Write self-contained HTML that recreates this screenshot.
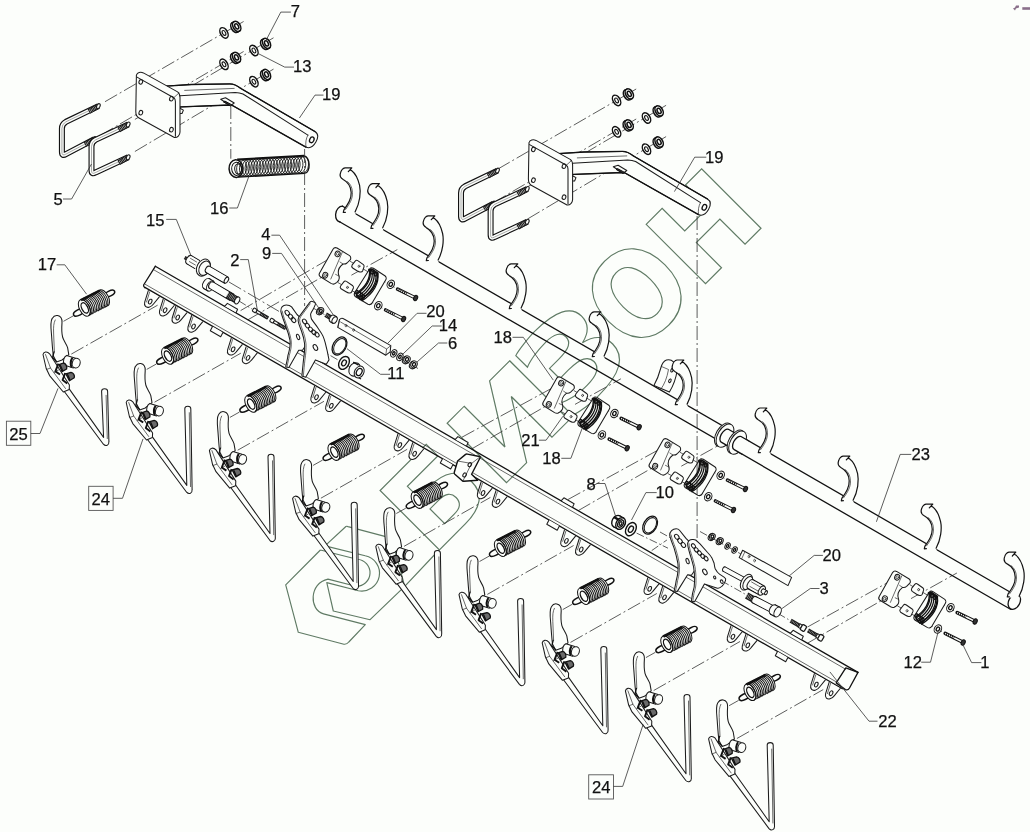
<!DOCTYPE html>
<html><head><meta charset="utf-8"><title>22</title>
<style>
html,body{margin:0;padding:0;background:#fcfefb;}
body{width:1030px;height:832px;overflow:hidden;}
svg{display:block;will-change:transform}
.l{fill:none;stroke:#1c1c1c;stroke-width:1.05;stroke-linejoin:round;stroke-linecap:round}
.f{fill:#fcfefb;stroke:#1c1c1c;stroke-width:1.05;stroke-linejoin:round;stroke-linecap:round}
.l2{fill:none;stroke:#141414;stroke-width:1.2;stroke-linejoin:round;stroke-linecap:round}
.f2{fill:#fcfefb;stroke:#111;stroke-width:1.4;stroke-linejoin:round}
.t{fill:none;stroke:#2a2a2a;stroke-width:0.7;stroke-linecap:round}
.k{fill:none;stroke:#111;stroke-width:1.3;stroke-linejoin:round;stroke-linecap:round}
.c{fill:none;stroke:#333;stroke-width:0.8;stroke-dasharray:14 3 2 3}
.c2{fill:none;stroke:#333;stroke-width:0.8}
.c3{fill:none;stroke:#333;stroke-width:0.8;stroke-dasharray:8 2.5 1.5 2.5}
.ld{fill:none;stroke:#333;stroke-width:0.8}
.w{fill:none;stroke:#5f7a64;stroke-width:1.15;stroke-linejoin:round}
.sl{fill:#fcfefb;stroke:#111;stroke-width:1.5}
.sb{fill:#fcfefb;stroke:none}
.sc{fill:none;stroke:#111;stroke-width:1.0}
.sc2{fill:none;stroke:#111;stroke-width:1.3}
.d2{fill:#333;stroke:#111;stroke-width:1}
.d{fill:#6a6a6a;stroke:#111;stroke-width:1.3;stroke-linejoin:round}
text{font-family:"Liberation Sans",sans-serif;font-size:16.6px;fill:#111;stroke:#111;stroke-width:0.25}
.wm{font-family:"DejaVu Sans","Liberation Sans",sans-serif;font-weight:bold;font-size:115.2px;fill:none;stroke:#5f7a64;stroke-width:1.15;stroke-linejoin:miter;vector-effect:non-scaling-stroke}
</style></head><body>
<svg width="1030" height="832" viewBox="0 0 1030 832">
<rect x="0" y="0" width="1030" height="832" fill="#fcfefb"/>
<path class="w" d="M325,545.9 L345.9,526.5 Q346.5,526 348,526.6 L389.5,537.6 Q392,538.2 392.6,541 L404.7,586.3 L439,550" />
<path class="w" d="M404.7,586.3 L370.1,619.7 L333.3,611 L326.8,582.6 L358.3,590.7 A17,17 0 0 0 365.2,555.8 L325,545.9" />
<path class="w" d="M320.4,550 L285.7,584.8 L298.3,632.3 L343,644 Q346.5,645 348.8,642 L365.3,624.6 L323.5,613.9 C309,610 309,583 328,579.1 L355.9,586.3 A13.5,13.5 0 0 0 357.1,559.3 L320.4,550" />
<g transform="rotate(-45)">
<text class="wm" transform="translate(-88.9,699.6) scale(1.027,1.000)" x="0" y="0">Б</text>
<text class="wm" transform="translate(4.4,699.6) scale(1.175,1.000)" x="0" y="0">И</text>
<text class="wm" transform="translate(102.0,701.2) scale(1.185,1.040)" x="0" y="0">З</text>
<text class="wm" transform="translate(197.7,701.2) scale(0.926,1.040)" x="0" y="0">О</text>
<text class="wm" transform="translate(287.3,699.6) scale(1.042,1.000)" x="0" y="0">Н</text>
</g>
<path class="c2" d="M63.5,321.3 L73.0,316.0"/>
<path class="c" d="M71.3,354.1 L157.6,305.2"/>
<path class="c2" d="M146.7,369.4 L156.2,364.1"/>
<path class="c" d="M154.5,402.2 L240.8,353.2"/>
<path class="c2" d="M229.9,417.4 L239.4,412.1"/>
<path class="c" d="M237.7,450.2 L324.0,401.3"/>
<path class="c2" d="M313.1,465.4 L322.6,460.1"/>
<path class="c" d="M320.9,498.2 L407.2,449.3"/>
<path class="c2" d="M396.3,513.5 L405.8,508.2"/>
<path class="c" d="M404.1,546.3 L490.4,497.4"/>
<path class="c2" d="M479.5,561.5 L489.0,556.2"/>
<path class="c" d="M487.3,594.4 L573.6,545.5"/>
<path class="c2" d="M562.7,609.6 L572.2,604.3"/>
<path class="c" d="M570.5,642.4 L656.8,593.5"/>
<path class="c2" d="M645.9,657.6 L655.4,652.3"/>
<path class="c" d="M653.7,690.5 L740.0,641.5"/>
<path class="c2" d="M729.1,705.7 L738.6,700.4"/>
<path class="c" d="M736.9,738.5 L823.2,689.6"/>
<path class="c" d="M497.6,169.2 L636.2,89.0"/>
<path class="c" d="M527.5,186.9 L666.1,105.3"/>
<path class="c" d="M493.6,202.6 L636.2,119.0"/>
<path class="c" d="M527.5,219.0 L666.1,136.6"/>
<path class="c" d="M105.0,101.7 L243.6,21.5"/>
<path class="c" d="M134.9,119.4 L273.5,37.8"/>
<path class="c" d="M101.0,135.1 L243.6,51.5"/>
<path class="c" d="M134.9,151.5 L273.5,69.1"/>
<path class="c" d="M240.6,310.6 L337.6,253.9"/>
<path class="c" d="M247.9,319.8 L325.2,275.2"/>
<path class="c3" d="M337.6,253.9 L397.6,289.2"/>
<path class="c3" d="M325.2,275.2 L385.6,310.0"/>
<path class="c" d="M351.4,275.2 L397.3,249.6"/>
<path class="c" d="M462.0,437.2 L561.2,383.1"/>
<path class="c" d="M471.5,449.0 L548.8,404.4"/>
<path class="c3" d="M561.2,383.1 L621.2,418.4"/>
<path class="c3" d="M548.8,404.4 L609.2,439.2"/>
<path class="c" d="M575.0,404.4 L620.9,378.8"/>
<path class="c" d="M568.0,499.5 L667.5,444.9"/>
<path class="c" d="M578.1,510.7 L655.1,466.2"/>
<path class="c3" d="M667.5,444.9 L727.5,480.2"/>
<path class="c3" d="M655.1,466.2 L715.5,501.0"/>
<path class="c" d="M681.3,466.2 L727.2,440.6"/>
<path class="c" d="M807.5,627.0 L897.2,577.3"/>
<path class="c" d="M807.5,643.2 L884.8,598.6"/>
<path class="c3" d="M897.2,577.3 L957.2,612.6"/>
<path class="c3" d="M884.8,598.6 L945.2,633.4"/>
<path class="c" d="M911.0,598.6 L956.9,573.0"/>
<path class="c" d="M229.0,282.0 L280.0,312.0"/>
<path class="c3" d="M239.0,301.0 L252.0,309.0"/>
<path class="c3" d="M285.0,328.5 L297.0,335.5"/>
<path class="c3" d="M314.0,308.5 L418.0,368.5"/>
<path class="c3" d="M318.0,348.4 L362.0,373.8"/>
<path class="c3" d="M700.0,531.5 L790.0,581.0"/>
<path class="c3" d="M636.6,533.1 L668.0,548.2"/>
<path class="c3" d="M660.0,532.0 L670.4,537.8"/>
<path class="c3" d="M721.7,580.9 L748.4,596.0"/>
<path class="c3" d="M778.0,613.5 L790.0,620.4"/>
<path class="c3" d="M651.7,550.6 L666.9,540.0"/>
<path class="k" d="M155.3,266.3 L858.0,672.4" />
<path class="t" d="M153.4,269.6 L845.8,669.3" />
<path class="t" d="M145.2,284.3 L836.5,682.0" />
<path class="k" d="M144.9,287.4 L842.4,688.8" />
<path class="k" d="M155.3,266.3 L143.6,285.0 Q143.4,286.6 144.9,287.7" />
<path class="k" d="M845.8,667.8 L858,672.4 L849.5,688 Q848,690.6 845.4,689.6 L836.2,682.9 Z" />
<path class="f2" d="M457.6,461 L465.6,454.4 Q466.3,453.9 467.4,454.1 L479.4,456.5 Q480.6,456.8 480.1,457.8 L471.6,474.2 L477.7,480.3 L463.6,481.2 Q462.6,481.2 462,480.5 L454.6,473.9 Q454,473.2 454.3,472.2 Z" />
<path class="t" d="M457.6,461.0 L471.5,463.5 L480.3,456.7" />
<path class="t" d="M471.5,463.5 L462.8,481.2" />
<ellipse class="l" cx="469.8" cy="464.6" rx="1.6" ry="2.2" transform="rotate(30.0 469.8 464.6)"/>
<ellipse class="l" cx="464.6" cy="475.0" rx="1.6" ry="2.2" transform="rotate(30.0 464.6 475.0)"/>
<g transform="translate(148.3,290.6)">
<path class="f" d="M0,0 L-3.6,11.5 C-4.6,15.5 -2,17.3 0.8,16.6 C3,16 4.3,14.6 5.2,13.4 L11,6.3" />
<path class="t" d="M1.4,1.2 L-1.8,11.4" />
<ellipse class="l" cx="1.9" cy="11.0" rx="1.6" ry="2.5" transform="rotate(25.0 1.9 11.0)"/>
</g>
<g transform="translate(163.2,299.2)">
<path class="f" d="M0,0 L-3.6,11.5 C-4.6,15.5 -2,17.3 0.8,16.6 C3,16 4.3,14.6 5.2,13.4 L11,6.3" />
<path class="t" d="M1.4,1.2 L-1.8,11.4" />
<ellipse class="l" cx="1.9" cy="11.0" rx="1.6" ry="2.5" transform="rotate(25.0 1.9 11.0)"/>
</g>
<g transform="translate(175.8,306.5)">
<path class="f" d="M0,0 L-3.6,11.5 C-4.6,15.5 -2,17.3 0.8,16.6 C3,16 4.3,14.6 5.2,13.4 L11,6.3" />
<path class="t" d="M1.4,1.2 L-1.8,11.4" />
<ellipse class="l" cx="1.9" cy="11.0" rx="1.6" ry="2.5" transform="rotate(25.0 1.9 11.0)"/>
</g>
<g transform="translate(191.6,315.5)">
<path class="f" d="M0,0 L-3.6,11.5 C-4.6,15.5 -2,17.3 0.8,16.6 C3,16 4.3,14.6 5.2,13.4 L11,6.3" />
<path class="t" d="M1.4,1.2 L-1.8,11.4" />
<ellipse class="l" cx="1.9" cy="11.0" rx="1.6" ry="2.5" transform="rotate(25.0 1.9 11.0)"/>
</g>
<g transform="translate(231.2,338.3)">
<path class="f" d="M0,0 L-3.6,11.5 C-4.6,15.5 -2,17.3 0.8,16.6 C3,16 4.3,14.6 5.2,13.4 L11,6.3" />
<path class="t" d="M1.4,1.2 L-1.8,11.4" />
<ellipse class="l" cx="1.9" cy="11.0" rx="1.6" ry="2.5" transform="rotate(25.0 1.9 11.0)"/>
</g>
<g transform="translate(246.1,346.9)">
<path class="f" d="M0,0 L-3.6,11.5 C-4.6,15.5 -2,17.3 0.8,16.6 C3,16 4.3,14.6 5.2,13.4 L11,6.3" />
<path class="t" d="M1.4,1.2 L-1.8,11.4" />
<ellipse class="l" cx="1.9" cy="11.0" rx="1.6" ry="2.5" transform="rotate(25.0 1.9 11.0)"/>
</g>
<g transform="translate(314.6,386.2)">
<path class="f" d="M0,0 L-3.6,11.5 C-4.6,15.5 -2,17.3 0.8,16.6 C3,16 4.3,14.6 5.2,13.4 L11,6.3" />
<path class="t" d="M1.4,1.2 L-1.8,11.4" />
<ellipse class="l" cx="1.9" cy="11.0" rx="1.6" ry="2.5" transform="rotate(25.0 1.9 11.0)"/>
</g>
<g transform="translate(329.4,394.8)">
<path class="f" d="M0,0 L-3.6,11.5 C-4.6,15.5 -2,17.3 0.8,16.6 C3,16 4.3,14.6 5.2,13.4 L11,6.3" />
<path class="t" d="M1.4,1.2 L-1.8,11.4" />
<ellipse class="l" cx="1.9" cy="11.0" rx="1.6" ry="2.5" transform="rotate(25.0 1.9 11.0)"/>
</g>
<g transform="translate(397.9,434.1)">
<path class="f" d="M0,0 L-3.6,11.5 C-4.6,15.5 -2,17.3 0.8,16.6 C3,16 4.3,14.6 5.2,13.4 L11,6.3" />
<path class="t" d="M1.4,1.2 L-1.8,11.4" />
<ellipse class="l" cx="1.9" cy="11.0" rx="1.6" ry="2.5" transform="rotate(25.0 1.9 11.0)"/>
</g>
<g transform="translate(412.7,442.7)">
<path class="f" d="M0,0 L-3.6,11.5 C-4.6,15.5 -2,17.3 0.8,16.6 C3,16 4.3,14.6 5.2,13.4 L11,6.3" />
<path class="t" d="M1.4,1.2 L-1.8,11.4" />
<ellipse class="l" cx="1.9" cy="11.0" rx="1.6" ry="2.5" transform="rotate(25.0 1.9 11.0)"/>
</g>
<g transform="translate(481.1,482.0)">
<path class="f" d="M0,0 L-3.6,11.5 C-4.6,15.5 -2,17.3 0.8,16.6 C3,16 4.3,14.6 5.2,13.4 L11,6.3" />
<path class="t" d="M1.4,1.2 L-1.8,11.4" />
<ellipse class="l" cx="1.9" cy="11.0" rx="1.6" ry="2.5" transform="rotate(25.0 1.9 11.0)"/>
</g>
<g transform="translate(496.0,490.6)">
<path class="f" d="M0,0 L-3.6,11.5 C-4.6,15.5 -2,17.3 0.8,16.6 C3,16 4.3,14.6 5.2,13.4 L11,6.3" />
<path class="t" d="M1.4,1.2 L-1.8,11.4" />
<ellipse class="l" cx="1.9" cy="11.0" rx="1.6" ry="2.5" transform="rotate(25.0 1.9 11.0)"/>
</g>
<g transform="translate(564.5,529.9)">
<path class="f" d="M0,0 L-3.6,11.5 C-4.6,15.5 -2,17.3 0.8,16.6 C3,16 4.3,14.6 5.2,13.4 L11,6.3" />
<path class="t" d="M1.4,1.2 L-1.8,11.4" />
<ellipse class="l" cx="1.9" cy="11.0" rx="1.6" ry="2.5" transform="rotate(25.0 1.9 11.0)"/>
</g>
<g transform="translate(579.3,538.5)">
<path class="f" d="M0,0 L-3.6,11.5 C-4.6,15.5 -2,17.3 0.8,16.6 C3,16 4.3,14.6 5.2,13.4 L11,6.3" />
<path class="t" d="M1.4,1.2 L-1.8,11.4" />
<ellipse class="l" cx="1.9" cy="11.0" rx="1.6" ry="2.5" transform="rotate(25.0 1.9 11.0)"/>
</g>
<g transform="translate(647.8,577.8)">
<path class="f" d="M0,0 L-3.6,11.5 C-4.6,15.5 -2,17.3 0.8,16.6 C3,16 4.3,14.6 5.2,13.4 L11,6.3" />
<path class="t" d="M1.4,1.2 L-1.8,11.4" />
<ellipse class="l" cx="1.9" cy="11.0" rx="1.6" ry="2.5" transform="rotate(25.0 1.9 11.0)"/>
</g>
<g transform="translate(662.6,586.4)">
<path class="f" d="M0,0 L-3.6,11.5 C-4.6,15.5 -2,17.3 0.8,16.6 C3,16 4.3,14.6 5.2,13.4 L11,6.3" />
<path class="t" d="M1.4,1.2 L-1.8,11.4" />
<ellipse class="l" cx="1.9" cy="11.0" rx="1.6" ry="2.5" transform="rotate(25.0 1.9 11.0)"/>
</g>
<g transform="translate(731.0,625.7)">
<path class="f" d="M0,0 L-3.6,11.5 C-4.6,15.5 -2,17.3 0.8,16.6 C3,16 4.3,14.6 5.2,13.4 L11,6.3" />
<path class="t" d="M1.4,1.2 L-1.8,11.4" />
<ellipse class="l" cx="1.9" cy="11.0" rx="1.6" ry="2.5" transform="rotate(25.0 1.9 11.0)"/>
</g>
<g transform="translate(745.9,634.3)">
<path class="f" d="M0,0 L-3.6,11.5 C-4.6,15.5 -2,17.3 0.8,16.6 C3,16 4.3,14.6 5.2,13.4 L11,6.3" />
<path class="t" d="M1.4,1.2 L-1.8,11.4" />
<ellipse class="l" cx="1.9" cy="11.0" rx="1.6" ry="2.5" transform="rotate(25.0 1.9 11.0)"/>
</g>
<g transform="translate(814.4,673.6)">
<path class="f" d="M0,0 L-3.6,11.5 C-4.6,15.5 -2,17.3 0.8,16.6 C3,16 4.3,14.6 5.2,13.4 L11,6.3" />
<path class="t" d="M1.4,1.2 L-1.8,11.4" />
<ellipse class="l" cx="1.9" cy="11.0" rx="1.6" ry="2.5" transform="rotate(25.0 1.9 11.0)"/>
</g>
<g transform="translate(829.2,682.2)">
<path class="f" d="M0,0 L-3.6,11.5 C-4.6,15.5 -2,17.3 0.8,16.6 C3,16 4.3,14.6 5.2,13.4 L11,6.3" />
<path class="t" d="M1.4,1.2 L-1.8,11.4" />
<ellipse class="l" cx="1.9" cy="11.0" rx="1.6" ry="2.5" transform="rotate(25.0 1.9 11.0)"/>
</g>
<path class="f" d="M224.8,306.2 L227.4,303.4 L237.6,309.3 L236.2,312.5" />
<path class="f" d="M455.3,439.4 L457.9,436.6 L468.1,442.5 L466.7,445.7" />
<path class="f" d="M561.3,500.6 L563.9,497.8 L574.1,503.7 L572.7,506.9" />
<path class="f" d="M790.5,633.1 L793.1,630.3 L803.3,636.2 L801.9,639.4" />
<path class="f" d="M212.5,326.6 L210.3,330.8 L220.7,336.8 L222.9,332.6" />
<path class="f" d="M442.5,458.8 L440.3,463.0 L450.7,469.0 L452.9,464.8" />
<path class="f" d="M549.0,520.1 L546.8,524.3 L557.2,530.3 L559.4,526.1" />
<path class="f" d="M777.5,651.5 L775.3,655.7 L785.7,661.7 L787.9,657.5" />
<path class="k" d="M342.6,206.2 L1013.0,593.8" />
<path class="k" d="M340.0,222.0 L1010.5,609.2" />
<path class="k" d="M342.6,206.2 C339.5,206 335.8,209.5 335.6,214.5 C335.5,219 337.5,221.5 340,222" />
<ellipse class="k" cx="1014.3" cy="601.8" rx="5.6" ry="8.0" transform="rotate(28.0 1014.3 601.8)"/>
<g transform="translate(0.0,0.0)">
<path class="sb" d="M343.2,212.6 L343.9,209.9 C348,204 351.5,199 351.2,192.5 C350.8,185 347,181.5 343.2,179.5 C340.5,178 339.5,175.5 340.6,172.5 C341.5,169.5 343,168.2 345,167.8 L351.8,167.8 L348.3,171.6 C349.5,170 350.5,169.8 351.5,170.4 C355,173 358,178.5 359.6,185.4 C361,192 360,203 355.1,211.9 L355.8,214.8 Z" />
<path class="l2" d="M345.4,212.4 L343.3,212.5 L343.9,209.9 C348,204 351.5,199 351.2,192.5 C350.8,185 347,181.5 343.2,179.5 C340.5,178 339.5,175.5 340.6,172.5 C341.5,169.5 343,168.2 345,167.8 L351.8,167.8 L348.3,171.6 C349.5,170 350.5,169.8 351.5,170.4 C355,173 358,178.5 359.6,185.4 C361,192 360,203 355.1,211.9" />
<path class="t" d="M345.6,209.5 C349.5,204 352.8,199 352.5,192.5 C352.2,187 350,183.5 347.5,181.5" />
</g>
<g transform="translate(27.6,15.9)">
<path class="sb" d="M343.2,212.6 L343.9,209.9 C348,204 351.5,199 351.2,192.5 C350.8,185 347,181.5 343.2,179.5 C340.5,178 339.5,175.5 340.6,172.5 C341.5,169.5 343,168.2 345,167.8 L351.8,167.8 L348.3,171.6 C349.5,170 350.5,169.8 351.5,170.4 C355,173 358,178.5 359.6,185.4 C361,192 360,203 355.1,211.9 L355.8,214.8 Z" />
<path class="l2" d="M345.4,212.4 L343.3,212.5 L343.9,209.9 C348,204 351.5,199 351.2,192.5 C350.8,185 347,181.5 343.2,179.5 C340.5,178 339.5,175.5 340.6,172.5 C341.5,169.5 343,168.2 345,167.8 L351.8,167.8 L348.3,171.6 C349.5,170 350.5,169.8 351.5,170.4 C355,173 358,178.5 359.6,185.4 C361,192 360,203 355.1,211.9" />
<path class="t" d="M345.6,209.5 C349.5,204 352.8,199 352.5,192.5 C352.2,187 350,183.5 347.5,181.5" />
</g>
<g transform="translate(83.0,48.1)">
<path class="sb" d="M343.2,212.6 L343.9,209.9 C348,204 351.5,199 351.2,192.5 C350.8,185 347,181.5 343.2,179.5 C340.5,178 339.5,175.5 340.6,172.5 C341.5,169.5 343,168.2 345,167.8 L351.8,167.8 L348.3,171.6 C349.5,170 350.5,169.8 351.5,170.4 C355,173 358,178.5 359.6,185.4 C361,192 360,203 355.1,211.9 L355.8,214.8 Z" />
<path class="l2" d="M345.4,212.4 L343.3,212.5 L343.9,209.9 C348,204 351.5,199 351.2,192.5 C350.8,185 347,181.5 343.2,179.5 C340.5,178 339.5,175.5 340.6,172.5 C341.5,169.5 343,168.2 345,167.8 L351.8,167.8 L348.3,171.6 C349.5,170 350.5,169.8 351.5,170.4 C355,173 358,178.5 359.6,185.4 C361,192 360,203 355.1,211.9" />
<path class="t" d="M345.6,209.5 C349.5,204 352.8,199 352.5,192.5 C352.2,187 350,183.5 347.5,181.5" />
</g>
<g transform="translate(166.0,96.1)">
<path class="sb" d="M343.2,212.6 L343.9,209.9 C348,204 351.5,199 351.2,192.5 C350.8,185 347,181.5 343.2,179.5 C340.5,178 339.5,175.5 340.6,172.5 C341.5,169.5 343,168.2 345,167.8 L351.8,167.8 L348.3,171.6 C349.5,170 350.5,169.8 351.5,170.4 C355,173 358,178.5 359.6,185.4 C361,192 360,203 355.1,211.9 L355.8,214.8 Z" />
<path class="l2" d="M345.4,212.4 L343.3,212.5 L343.9,209.9 C348,204 351.5,199 351.2,192.5 C350.8,185 347,181.5 343.2,179.5 C340.5,178 339.5,175.5 340.6,172.5 C341.5,169.5 343,168.2 345,167.8 L351.8,167.8 L348.3,171.6 C349.5,170 350.5,169.8 351.5,170.4 C355,173 358,178.5 359.6,185.4 C361,192 360,203 355.1,211.9" />
<path class="t" d="M345.6,209.5 C349.5,204 352.8,199 352.5,192.5 C352.2,187 350,183.5 347.5,181.5" />
</g>
<g transform="translate(249.0,144.1)">
<path class="sb" d="M343.2,212.6 L343.9,209.9 C348,204 351.5,199 351.2,192.5 C350.8,185 347,181.5 343.2,179.5 C340.5,178 339.5,175.5 340.6,172.5 C341.5,169.5 343,168.2 345,167.8 L351.8,167.8 L348.3,171.6 C349.5,170 350.5,169.8 351.5,170.4 C355,173 358,178.5 359.6,185.4 C361,192 360,203 355.1,211.9 L355.8,214.8 Z" />
<path class="l2" d="M345.4,212.4 L343.3,212.5 L343.9,209.9 C348,204 351.5,199 351.2,192.5 C350.8,185 347,181.5 343.2,179.5 C340.5,178 339.5,175.5 340.6,172.5 C341.5,169.5 343,168.2 345,167.8 L351.8,167.8 L348.3,171.6 C349.5,170 350.5,169.8 351.5,170.4 C355,173 358,178.5 359.6,185.4 C361,192 360,203 355.1,211.9" />
<path class="t" d="M345.6,209.5 C349.5,204 352.8,199 352.5,192.5 C352.2,187 350,183.5 347.5,181.5" />
</g>
<g transform="translate(415.0,240.2)">
<path class="sb" d="M343.2,212.6 L343.9,209.9 C348,204 351.5,199 351.2,192.5 C350.8,185 347,181.5 343.2,179.5 C340.5,178 339.5,175.5 340.6,172.5 C341.5,169.5 343,168.2 345,167.8 L351.8,167.8 L348.3,171.6 C349.5,170 350.5,169.8 351.5,170.4 C355,173 358,178.5 359.6,185.4 C361,192 360,203 355.1,211.9 L355.8,214.8 Z" />
<path class="l2" d="M345.4,212.4 L343.3,212.5 L343.9,209.9 C348,204 351.5,199 351.2,192.5 C350.8,185 347,181.5 343.2,179.5 C340.5,178 339.5,175.5 340.6,172.5 C341.5,169.5 343,168.2 345,167.8 L351.8,167.8 L348.3,171.6 C349.5,170 350.5,169.8 351.5,170.4 C355,173 358,178.5 359.6,185.4 C361,192 360,203 355.1,211.9" />
<path class="t" d="M345.6,209.5 C349.5,204 352.8,199 352.5,192.5 C352.2,187 350,183.5 347.5,181.5" />
</g>
<g transform="translate(498.0,288.3)">
<path class="sb" d="M343.2,212.6 L343.9,209.9 C348,204 351.5,199 351.2,192.5 C350.8,185 347,181.5 343.2,179.5 C340.5,178 339.5,175.5 340.6,172.5 C341.5,169.5 343,168.2 345,167.8 L351.8,167.8 L348.3,171.6 C349.5,170 350.5,169.8 351.5,170.4 C355,173 358,178.5 359.6,185.4 C361,192 360,203 355.1,211.9 L355.8,214.8 Z" />
<path class="l2" d="M345.4,212.4 L343.3,212.5 L343.9,209.9 C348,204 351.5,199 351.2,192.5 C350.8,185 347,181.5 343.2,179.5 C340.5,178 339.5,175.5 340.6,172.5 C341.5,169.5 343,168.2 345,167.8 L351.8,167.8 L348.3,171.6 C349.5,170 350.5,169.8 351.5,170.4 C355,173 358,178.5 359.6,185.4 C361,192 360,203 355.1,211.9" />
<path class="t" d="M345.6,209.5 C349.5,204 352.8,199 352.5,192.5 C352.2,187 350,183.5 347.5,181.5" />
</g>
<g transform="translate(581.0,336.3)">
<path class="sb" d="M343.2,212.6 L343.9,209.9 C348,204 351.5,199 351.2,192.5 C350.8,185 347,181.5 343.2,179.5 C340.5,178 339.5,175.5 340.6,172.5 C341.5,169.5 343,168.2 345,167.8 L351.8,167.8 L348.3,171.6 C349.5,170 350.5,169.8 351.5,170.4 C355,173 358,178.5 359.6,185.4 C361,192 360,203 355.1,211.9 L355.8,214.8 Z" />
<path class="l2" d="M345.4,212.4 L343.3,212.5 L343.9,209.9 C348,204 351.5,199 351.2,192.5 C350.8,185 347,181.5 343.2,179.5 C340.5,178 339.5,175.5 340.6,172.5 C341.5,169.5 343,168.2 345,167.8 L351.8,167.8 L348.3,171.6 C349.5,170 350.5,169.8 351.5,170.4 C355,173 358,178.5 359.6,185.4 C361,192 360,203 355.1,211.9" />
<path class="t" d="M345.6,209.5 C349.5,204 352.8,199 352.5,192.5 C352.2,187 350,183.5 347.5,181.5" />
</g>
<g transform="translate(664.0,384.4)">
<path class="sb" d="M343.2,212.6 L343.9,209.9 C348,204 351.5,199 351.2,192.5 C350.8,185 347,181.5 343.2,179.5 C340.5,178 339.5,175.5 340.6,172.5 C341.5,169.5 343,168.2 345,167.8 L351.8,167.8 L348.3,171.6 C349.5,170 350.5,169.8 351.5,170.4 C355,173 358,178.5 359.6,185.4 C361,192 360,203 355.1,211.9 L355.8,214.8 Z" />
<path class="l2" d="M345.4,212.4 L343.3,212.5 L343.9,209.9 C348,204 351.5,199 351.2,192.5 C350.8,185 347,181.5 343.2,179.5 C340.5,178 339.5,175.5 340.6,172.5 C341.5,169.5 343,168.2 345,167.8 L351.8,167.8 L348.3,171.6 C349.5,170 350.5,169.8 351.5,170.4 C355,173 358,178.5 359.6,185.4 C361,192 360,203 355.1,211.9" />
<path class="t" d="M345.6,209.5 C349.5,204 352.8,199 352.5,192.5 C352.2,187 350,183.5 347.5,181.5" />
</g>
<path class="f" d="M653.9,385.4 C657,380 659.5,373 660.8,368 C662,363.5 664,360.8 666.5,360 C669,359.3 671.5,359.8 673.5,361.8 L677,371 C676,379 673,386 669.4,392.1 Z" />
<path class="t" d="M661.5,366.5 L668.5,369.5 C667,378 664.5,384 661,389" />
<ellipse class="l" cx="672.0" cy="370.2" rx="1.1" ry="1.9" transform="rotate(25.0 672.0 370.2)"/>
<ellipse class="l" cx="669.9" cy="380.8" rx="1.1" ry="1.9" transform="rotate(25.0 669.9 380.8)"/>
<g transform="translate(332.0,192.2)">
<path class="sb" d="M343.2,212.6 L343.9,209.9 C348,204 351.5,199 351.2,192.5 C350.8,185 347,181.5 343.2,179.5 C340.5,178 339.5,175.5 340.6,172.5 C341.5,169.5 343,168.2 345,167.8 L351.8,167.8 L348.3,171.6 C349.5,170 350.5,169.8 351.5,170.4 C355,173 358,178.5 359.6,185.4 C361,192 360,203 355.1,211.9 L355.8,214.8 Z" />
<path class="l2" d="M345.4,212.4 L343.3,212.5 L343.9,209.9 C348,204 351.5,199 351.2,192.5 C350.8,185 347,181.5 343.2,179.5 C340.5,178 339.5,175.5 340.6,172.5 C341.5,169.5 343,168.2 345,167.8 L351.8,167.8 L348.3,171.6 C349.5,170 350.5,169.8 351.5,170.4 C355,173 358,178.5 359.6,185.4 C361,192 360,203 355.1,211.9" />
<path class="t" d="M345.6,209.5 C349.5,204 352.8,199 352.5,192.5 C352.2,187 350,183.5 347.5,181.5" />
</g>
<ellipse class="f" cx="723.4" cy="434.7" rx="7.2" ry="12.7" transform="rotate(30.0 723.4 434.7)"/>
<ellipse class="f" cx="725.0" cy="435.6" rx="7.2" ry="12.7" transform="rotate(30.0 725.0 435.6)"/>
<path class="sb" d="M728.4,429.3 A3.7,6.8 30 0 0 721.6,442.4 L729.8,447.1 L736.6,434.0 Z" />
<path class="k" d="M736.6,434.0 L728.4,429.3 A3.7,6.8 30 0 0 721.6,442.4 L729.8,447.1" />
<ellipse class="f" cx="736.0" cy="441.7" rx="7.2" ry="12.7" transform="rotate(30.0 736.0 441.7)"/>
<ellipse class="f" cx="737.6" cy="442.6" rx="7.2" ry="12.7" transform="rotate(30.0 737.6 442.6)"/>
<path class="sb" d="M741.0,436.5 A3.7,6.8 30 0 0 734.2,449.6 L742.0,454.1 L748.8,441.0 Z" />
<path class="k" d="M748.8,441.0 L741.0,436.5 A3.7,6.8 30 0 0 734.2,449.6 L742.0,454.1" />
<g transform="translate(94.6,302.6) rotate(-27)">
<ellipse class="sl" cx="-18.4" cy="1.6" rx="5.9" ry="2.8"/>
<ellipse class="sl" cx="17.4" cy="-1.2" rx="5.6" ry="2.6"/>
<path class="sb" d="M-11.5,-9.0 L10,-9.0 A5,9.0 0 0 1 10,9.0 L-11.5,9.0 A5,9.0 0 0 1 -11.5,-9.0Z"/>
<path class="sc" d="M-11.50,-9.0 A5,9.0 0 0 1 -11.50,9.0"/>
<path class="sc" d="M-9.71,-9.0 A5,9.0 0 0 1 -9.71,9.0"/>
<path class="sc" d="M-7.92,-9.0 A5,9.0 0 0 1 -7.92,9.0"/>
<path class="sc" d="M-6.12,-9.0 A5,9.0 0 0 1 -6.12,9.0"/>
<path class="sc" d="M-4.33,-9.0 A5,9.0 0 0 1 -4.33,9.0"/>
<path class="sc" d="M-2.54,-9.0 A5,9.0 0 0 1 -2.54,9.0"/>
<path class="sc" d="M-0.75,-9.0 A5,9.0 0 0 1 -0.75,9.0"/>
<path class="sc" d="M1.04,-9.0 A5,9.0 0 0 1 1.04,9.0"/>
<path class="sc" d="M2.83,-9.0 A5,9.0 0 0 1 2.83,9.0"/>
<path class="sc" d="M4.62,-9.0 A5,9.0 0 0 1 4.62,9.0"/>
<path class="sc" d="M6.42,-9.0 A5,9.0 0 0 1 6.42,9.0"/>
<path class="sc" d="M8.21,-9.0 A5,9.0 0 0 1 8.21,9.0"/>
<path class="sc" d="M10.00,-9.0 A5,9.0 0 0 1 10.00,9.0"/>
<ellipse class="sc" cx="-11.5" cy="0" rx="5" ry="9.0"/>
<ellipse class="sc2" cx="-11.2" cy="0.3" rx="3" ry="5.6"/>
<path class="sc" d="M-11,-8.4 L10,-8.4" style="stroke-width:2.6"/>
</g>
<g transform="translate(177.8,350.7) rotate(-27)">
<ellipse class="sl" cx="-18.4" cy="1.6" rx="5.9" ry="2.8"/>
<ellipse class="sl" cx="17.4" cy="-1.2" rx="5.6" ry="2.6"/>
<path class="sb" d="M-11.5,-9.0 L10,-9.0 A5,9.0 0 0 1 10,9.0 L-11.5,9.0 A5,9.0 0 0 1 -11.5,-9.0Z"/>
<path class="sc" d="M-11.50,-9.0 A5,9.0 0 0 1 -11.50,9.0"/>
<path class="sc" d="M-9.71,-9.0 A5,9.0 0 0 1 -9.71,9.0"/>
<path class="sc" d="M-7.92,-9.0 A5,9.0 0 0 1 -7.92,9.0"/>
<path class="sc" d="M-6.12,-9.0 A5,9.0 0 0 1 -6.12,9.0"/>
<path class="sc" d="M-4.33,-9.0 A5,9.0 0 0 1 -4.33,9.0"/>
<path class="sc" d="M-2.54,-9.0 A5,9.0 0 0 1 -2.54,9.0"/>
<path class="sc" d="M-0.75,-9.0 A5,9.0 0 0 1 -0.75,9.0"/>
<path class="sc" d="M1.04,-9.0 A5,9.0 0 0 1 1.04,9.0"/>
<path class="sc" d="M2.83,-9.0 A5,9.0 0 0 1 2.83,9.0"/>
<path class="sc" d="M4.62,-9.0 A5,9.0 0 0 1 4.62,9.0"/>
<path class="sc" d="M6.42,-9.0 A5,9.0 0 0 1 6.42,9.0"/>
<path class="sc" d="M8.21,-9.0 A5,9.0 0 0 1 8.21,9.0"/>
<path class="sc" d="M10.00,-9.0 A5,9.0 0 0 1 10.00,9.0"/>
<ellipse class="sc" cx="-11.5" cy="0" rx="5" ry="9.0"/>
<ellipse class="sc2" cx="-11.2" cy="0.3" rx="3" ry="5.6"/>
<path class="sc" d="M-11,-8.4 L10,-8.4" style="stroke-width:2.6"/>
</g>
<g transform="translate(261.0,398.7) rotate(-27)">
<ellipse class="sl" cx="-18.4" cy="1.6" rx="5.9" ry="2.8"/>
<ellipse class="sl" cx="17.4" cy="-1.2" rx="5.6" ry="2.6"/>
<path class="sb" d="M-11.5,-9.0 L10,-9.0 A5,9.0 0 0 1 10,9.0 L-11.5,9.0 A5,9.0 0 0 1 -11.5,-9.0Z"/>
<path class="sc" d="M-11.50,-9.0 A5,9.0 0 0 1 -11.50,9.0"/>
<path class="sc" d="M-9.71,-9.0 A5,9.0 0 0 1 -9.71,9.0"/>
<path class="sc" d="M-7.92,-9.0 A5,9.0 0 0 1 -7.92,9.0"/>
<path class="sc" d="M-6.12,-9.0 A5,9.0 0 0 1 -6.12,9.0"/>
<path class="sc" d="M-4.33,-9.0 A5,9.0 0 0 1 -4.33,9.0"/>
<path class="sc" d="M-2.54,-9.0 A5,9.0 0 0 1 -2.54,9.0"/>
<path class="sc" d="M-0.75,-9.0 A5,9.0 0 0 1 -0.75,9.0"/>
<path class="sc" d="M1.04,-9.0 A5,9.0 0 0 1 1.04,9.0"/>
<path class="sc" d="M2.83,-9.0 A5,9.0 0 0 1 2.83,9.0"/>
<path class="sc" d="M4.62,-9.0 A5,9.0 0 0 1 4.62,9.0"/>
<path class="sc" d="M6.42,-9.0 A5,9.0 0 0 1 6.42,9.0"/>
<path class="sc" d="M8.21,-9.0 A5,9.0 0 0 1 8.21,9.0"/>
<path class="sc" d="M10.00,-9.0 A5,9.0 0 0 1 10.00,9.0"/>
<ellipse class="sc" cx="-11.5" cy="0" rx="5" ry="9.0"/>
<ellipse class="sc2" cx="-11.2" cy="0.3" rx="3" ry="5.6"/>
<path class="sc" d="M-11,-8.4 L10,-8.4" style="stroke-width:2.6"/>
</g>
<g transform="translate(344.2,446.8) rotate(-27)">
<ellipse class="sl" cx="-18.4" cy="1.6" rx="5.9" ry="2.8"/>
<ellipse class="sl" cx="17.4" cy="-1.2" rx="5.6" ry="2.6"/>
<path class="sb" d="M-11.5,-9.0 L10,-9.0 A5,9.0 0 0 1 10,9.0 L-11.5,9.0 A5,9.0 0 0 1 -11.5,-9.0Z"/>
<path class="sc" d="M-11.50,-9.0 A5,9.0 0 0 1 -11.50,9.0"/>
<path class="sc" d="M-9.71,-9.0 A5,9.0 0 0 1 -9.71,9.0"/>
<path class="sc" d="M-7.92,-9.0 A5,9.0 0 0 1 -7.92,9.0"/>
<path class="sc" d="M-6.12,-9.0 A5,9.0 0 0 1 -6.12,9.0"/>
<path class="sc" d="M-4.33,-9.0 A5,9.0 0 0 1 -4.33,9.0"/>
<path class="sc" d="M-2.54,-9.0 A5,9.0 0 0 1 -2.54,9.0"/>
<path class="sc" d="M-0.75,-9.0 A5,9.0 0 0 1 -0.75,9.0"/>
<path class="sc" d="M1.04,-9.0 A5,9.0 0 0 1 1.04,9.0"/>
<path class="sc" d="M2.83,-9.0 A5,9.0 0 0 1 2.83,9.0"/>
<path class="sc" d="M4.62,-9.0 A5,9.0 0 0 1 4.62,9.0"/>
<path class="sc" d="M6.42,-9.0 A5,9.0 0 0 1 6.42,9.0"/>
<path class="sc" d="M8.21,-9.0 A5,9.0 0 0 1 8.21,9.0"/>
<path class="sc" d="M10.00,-9.0 A5,9.0 0 0 1 10.00,9.0"/>
<ellipse class="sc" cx="-11.5" cy="0" rx="5" ry="9.0"/>
<ellipse class="sc2" cx="-11.2" cy="0.3" rx="3" ry="5.6"/>
<path class="sc" d="M-11,-8.4 L10,-8.4" style="stroke-width:2.6"/>
</g>
<g transform="translate(427.4,494.8) rotate(-27)">
<ellipse class="sl" cx="-18.4" cy="1.6" rx="5.9" ry="2.8"/>
<ellipse class="sl" cx="17.4" cy="-1.2" rx="5.6" ry="2.6"/>
<path class="sb" d="M-11.5,-9.0 L10,-9.0 A5,9.0 0 0 1 10,9.0 L-11.5,9.0 A5,9.0 0 0 1 -11.5,-9.0Z"/>
<path class="sc" d="M-11.50,-9.0 A5,9.0 0 0 1 -11.50,9.0"/>
<path class="sc" d="M-9.71,-9.0 A5,9.0 0 0 1 -9.71,9.0"/>
<path class="sc" d="M-7.92,-9.0 A5,9.0 0 0 1 -7.92,9.0"/>
<path class="sc" d="M-6.12,-9.0 A5,9.0 0 0 1 -6.12,9.0"/>
<path class="sc" d="M-4.33,-9.0 A5,9.0 0 0 1 -4.33,9.0"/>
<path class="sc" d="M-2.54,-9.0 A5,9.0 0 0 1 -2.54,9.0"/>
<path class="sc" d="M-0.75,-9.0 A5,9.0 0 0 1 -0.75,9.0"/>
<path class="sc" d="M1.04,-9.0 A5,9.0 0 0 1 1.04,9.0"/>
<path class="sc" d="M2.83,-9.0 A5,9.0 0 0 1 2.83,9.0"/>
<path class="sc" d="M4.62,-9.0 A5,9.0 0 0 1 4.62,9.0"/>
<path class="sc" d="M6.42,-9.0 A5,9.0 0 0 1 6.42,9.0"/>
<path class="sc" d="M8.21,-9.0 A5,9.0 0 0 1 8.21,9.0"/>
<path class="sc" d="M10.00,-9.0 A5,9.0 0 0 1 10.00,9.0"/>
<ellipse class="sc" cx="-11.5" cy="0" rx="5" ry="9.0"/>
<ellipse class="sc2" cx="-11.2" cy="0.3" rx="3" ry="5.6"/>
<path class="sc" d="M-11,-8.4 L10,-8.4" style="stroke-width:2.6"/>
</g>
<g transform="translate(510.6,542.9) rotate(-27)">
<ellipse class="sl" cx="-18.4" cy="1.6" rx="5.9" ry="2.8"/>
<ellipse class="sl" cx="17.4" cy="-1.2" rx="5.6" ry="2.6"/>
<path class="sb" d="M-11.5,-9.0 L10,-9.0 A5,9.0 0 0 1 10,9.0 L-11.5,9.0 A5,9.0 0 0 1 -11.5,-9.0Z"/>
<path class="sc" d="M-11.50,-9.0 A5,9.0 0 0 1 -11.50,9.0"/>
<path class="sc" d="M-9.71,-9.0 A5,9.0 0 0 1 -9.71,9.0"/>
<path class="sc" d="M-7.92,-9.0 A5,9.0 0 0 1 -7.92,9.0"/>
<path class="sc" d="M-6.12,-9.0 A5,9.0 0 0 1 -6.12,9.0"/>
<path class="sc" d="M-4.33,-9.0 A5,9.0 0 0 1 -4.33,9.0"/>
<path class="sc" d="M-2.54,-9.0 A5,9.0 0 0 1 -2.54,9.0"/>
<path class="sc" d="M-0.75,-9.0 A5,9.0 0 0 1 -0.75,9.0"/>
<path class="sc" d="M1.04,-9.0 A5,9.0 0 0 1 1.04,9.0"/>
<path class="sc" d="M2.83,-9.0 A5,9.0 0 0 1 2.83,9.0"/>
<path class="sc" d="M4.62,-9.0 A5,9.0 0 0 1 4.62,9.0"/>
<path class="sc" d="M6.42,-9.0 A5,9.0 0 0 1 6.42,9.0"/>
<path class="sc" d="M8.21,-9.0 A5,9.0 0 0 1 8.21,9.0"/>
<path class="sc" d="M10.00,-9.0 A5,9.0 0 0 1 10.00,9.0"/>
<ellipse class="sc" cx="-11.5" cy="0" rx="5" ry="9.0"/>
<ellipse class="sc2" cx="-11.2" cy="0.3" rx="3" ry="5.6"/>
<path class="sc" d="M-11,-8.4 L10,-8.4" style="stroke-width:2.6"/>
</g>
<g transform="translate(593.8,590.9) rotate(-27)">
<ellipse class="sl" cx="-18.4" cy="1.6" rx="5.9" ry="2.8"/>
<ellipse class="sl" cx="17.4" cy="-1.2" rx="5.6" ry="2.6"/>
<path class="sb" d="M-11.5,-9.0 L10,-9.0 A5,9.0 0 0 1 10,9.0 L-11.5,9.0 A5,9.0 0 0 1 -11.5,-9.0Z"/>
<path class="sc" d="M-11.50,-9.0 A5,9.0 0 0 1 -11.50,9.0"/>
<path class="sc" d="M-9.71,-9.0 A5,9.0 0 0 1 -9.71,9.0"/>
<path class="sc" d="M-7.92,-9.0 A5,9.0 0 0 1 -7.92,9.0"/>
<path class="sc" d="M-6.12,-9.0 A5,9.0 0 0 1 -6.12,9.0"/>
<path class="sc" d="M-4.33,-9.0 A5,9.0 0 0 1 -4.33,9.0"/>
<path class="sc" d="M-2.54,-9.0 A5,9.0 0 0 1 -2.54,9.0"/>
<path class="sc" d="M-0.75,-9.0 A5,9.0 0 0 1 -0.75,9.0"/>
<path class="sc" d="M1.04,-9.0 A5,9.0 0 0 1 1.04,9.0"/>
<path class="sc" d="M2.83,-9.0 A5,9.0 0 0 1 2.83,9.0"/>
<path class="sc" d="M4.62,-9.0 A5,9.0 0 0 1 4.62,9.0"/>
<path class="sc" d="M6.42,-9.0 A5,9.0 0 0 1 6.42,9.0"/>
<path class="sc" d="M8.21,-9.0 A5,9.0 0 0 1 8.21,9.0"/>
<path class="sc" d="M10.00,-9.0 A5,9.0 0 0 1 10.00,9.0"/>
<ellipse class="sc" cx="-11.5" cy="0" rx="5" ry="9.0"/>
<ellipse class="sc2" cx="-11.2" cy="0.3" rx="3" ry="5.6"/>
<path class="sc" d="M-11,-8.4 L10,-8.4" style="stroke-width:2.6"/>
</g>
<g transform="translate(677.0,639.0) rotate(-27)">
<ellipse class="sl" cx="-18.4" cy="1.6" rx="5.9" ry="2.8"/>
<ellipse class="sl" cx="17.4" cy="-1.2" rx="5.6" ry="2.6"/>
<path class="sb" d="M-11.5,-9.0 L10,-9.0 A5,9.0 0 0 1 10,9.0 L-11.5,9.0 A5,9.0 0 0 1 -11.5,-9.0Z"/>
<path class="sc" d="M-11.50,-9.0 A5,9.0 0 0 1 -11.50,9.0"/>
<path class="sc" d="M-9.71,-9.0 A5,9.0 0 0 1 -9.71,9.0"/>
<path class="sc" d="M-7.92,-9.0 A5,9.0 0 0 1 -7.92,9.0"/>
<path class="sc" d="M-6.12,-9.0 A5,9.0 0 0 1 -6.12,9.0"/>
<path class="sc" d="M-4.33,-9.0 A5,9.0 0 0 1 -4.33,9.0"/>
<path class="sc" d="M-2.54,-9.0 A5,9.0 0 0 1 -2.54,9.0"/>
<path class="sc" d="M-0.75,-9.0 A5,9.0 0 0 1 -0.75,9.0"/>
<path class="sc" d="M1.04,-9.0 A5,9.0 0 0 1 1.04,9.0"/>
<path class="sc" d="M2.83,-9.0 A5,9.0 0 0 1 2.83,9.0"/>
<path class="sc" d="M4.62,-9.0 A5,9.0 0 0 1 4.62,9.0"/>
<path class="sc" d="M6.42,-9.0 A5,9.0 0 0 1 6.42,9.0"/>
<path class="sc" d="M8.21,-9.0 A5,9.0 0 0 1 8.21,9.0"/>
<path class="sc" d="M10.00,-9.0 A5,9.0 0 0 1 10.00,9.0"/>
<ellipse class="sc" cx="-11.5" cy="0" rx="5" ry="9.0"/>
<ellipse class="sc2" cx="-11.2" cy="0.3" rx="3" ry="5.6"/>
<path class="sc" d="M-11,-8.4 L10,-8.4" style="stroke-width:2.6"/>
</g>
<g transform="translate(760.2,687.0) rotate(-27)">
<ellipse class="sl" cx="-18.4" cy="1.6" rx="5.9" ry="2.8"/>
<ellipse class="sl" cx="17.4" cy="-1.2" rx="5.6" ry="2.6"/>
<path class="sb" d="M-11.5,-9.0 L10,-9.0 A5,9.0 0 0 1 10,9.0 L-11.5,9.0 A5,9.0 0 0 1 -11.5,-9.0Z"/>
<path class="sc" d="M-11.50,-9.0 A5,9.0 0 0 1 -11.50,9.0"/>
<path class="sc" d="M-9.71,-9.0 A5,9.0 0 0 1 -9.71,9.0"/>
<path class="sc" d="M-7.92,-9.0 A5,9.0 0 0 1 -7.92,9.0"/>
<path class="sc" d="M-6.12,-9.0 A5,9.0 0 0 1 -6.12,9.0"/>
<path class="sc" d="M-4.33,-9.0 A5,9.0 0 0 1 -4.33,9.0"/>
<path class="sc" d="M-2.54,-9.0 A5,9.0 0 0 1 -2.54,9.0"/>
<path class="sc" d="M-0.75,-9.0 A5,9.0 0 0 1 -0.75,9.0"/>
<path class="sc" d="M1.04,-9.0 A5,9.0 0 0 1 1.04,9.0"/>
<path class="sc" d="M2.83,-9.0 A5,9.0 0 0 1 2.83,9.0"/>
<path class="sc" d="M4.62,-9.0 A5,9.0 0 0 1 4.62,9.0"/>
<path class="sc" d="M6.42,-9.0 A5,9.0 0 0 1 6.42,9.0"/>
<path class="sc" d="M8.21,-9.0 A5,9.0 0 0 1 8.21,9.0"/>
<path class="sc" d="M10.00,-9.0 A5,9.0 0 0 1 10.00,9.0"/>
<ellipse class="sc" cx="-11.5" cy="0" rx="5" ry="9.0"/>
<ellipse class="sc2" cx="-11.2" cy="0.3" rx="3" ry="5.6"/>
<path class="sc" d="M-11,-8.4 L10,-8.4" style="stroke-width:2.6"/>
</g>
<g transform="translate(0.0,0.0)">
<path class="f" d="M67.6,386.6 L103.6,437.4 L101.6,391.3 C101.6,388.0 107.6,388.0 107.6,391.3 L108.9,441.4 C109.3,445.2 105.8,446.8 103.4,444.2 L63.4,390.2" />
<path class="t" d="M106.1,395.3 L107.3,438.6" />
<path class="f" d="M43,354.5 C43.5,351.8 47,351 49.6,353.8 L69.4,385 L69.2,389.6 L63.3,392 L49.6,375.6 L46.2,368.5 Z" />
<path class="t" d="M45.5,354.5 L50.5,368 L65.5,388.5" />
<path class="t" d="M50.5,368 L46.4,369.5 M54,372.5 L58.5,370" />
<path class="f" d="M51.4,333.5 C50.6,326 50.6,321 52.2,318.4 C53.6,316 55.6,315.2 57.6,315.6 C60.6,316.2 62.2,319.0 62,322.6 C61.6,328 61.6,333 62.6,337 C63.4,340.4 66.2,343.4 67.6,347.6 L68.8,354.6 L62,360 L56.5,362 L53.4,356 C52.4,350 52,340 51.4,333.5 Z" />
<path class="t" d="M55.2,320 C53.6,323 53.4,327 53.6,333 L54.4,352" />
<path class="k" d="M54,352 L52.6,357.5 L56.4,361.5" />
<path class="f" d="M66.6,355.4 L75.6,358.2 L73.4,368 L64,365 C62.6,361 64,356.6 66.6,355.4Z" />
<ellipse class="f" cx="76.2" cy="363.2" rx="3.9" ry="4.9" transform="rotate(18.0 76.2 363.2)"/>
<path d="M72.4,357.8 C70.6,360.6 70.4,364.6 71.6,367.2" fill="none" stroke="#111" stroke-width="2.1"/>
<path class="d" d="M59.0,364.6 L63.4,363 C65.6,363.4 67.4,366.4 66.6,369.0 L62,371.6 Z" />
<path class="d" d="M65.8,373.8 L71,372.4 C73.4,372.8 75,375.6 74.2,377.8 L69.4,380.8 Z" />
<path d="M58.4,363.6 L55.4,371.4 L60,374.5 M65.2,373 L62.6,380 L67.2,383.4" fill="none" stroke="#111" stroke-width="1.9" stroke-linejoin="round"/>
<path class="k" d="M60.4,365.4 L62.6,370.6 M67.6,374.6 L69.8,379.8" />
</g>
<g transform="translate(83.2,48.0)">
<path class="f" d="M67.6,386.6 L103.6,437.4 L101.6,360.7 C101.6,357.4 107.6,357.4 107.6,360.7 L108.9,441.4 C109.3,445.2 105.8,446.8 103.4,444.2 L63.4,390.2" />
<path class="t" d="M106.1,364.7 L107.3,438.6" />
<path class="f" d="M43,354.5 C43.5,351.8 47,351 49.6,353.8 L69.4,385 L69.2,389.6 L63.3,392 L49.6,375.6 L46.2,368.5 Z" />
<path class="t" d="M45.5,354.5 L50.5,368 L65.5,388.5" />
<path class="t" d="M50.5,368 L46.4,369.5 M54,372.5 L58.5,370" />
<path class="f" d="M51.4,333.5 C50.6,326 50.6,321 52.2,318.4 C53.6,316 55.6,315.2 57.6,315.6 C60.6,316.2 62.2,319.0 62,322.6 C61.6,328 61.6,333 62.6,337 C63.4,340.4 66.2,343.4 67.6,347.6 L68.8,354.6 L62,360 L56.5,362 L53.4,356 C52.4,350 52,340 51.4,333.5 Z" />
<path class="t" d="M55.2,320 C53.6,323 53.4,327 53.6,333 L54.4,352" />
<path class="k" d="M54,352 L52.6,357.5 L56.4,361.5" />
<path class="f" d="M66.6,355.4 L75.6,358.2 L73.4,368 L64,365 C62.6,361 64,356.6 66.6,355.4Z" />
<ellipse class="f" cx="76.2" cy="363.2" rx="3.9" ry="4.9" transform="rotate(18.0 76.2 363.2)"/>
<path d="M72.4,357.8 C70.6,360.6 70.4,364.6 71.6,367.2" fill="none" stroke="#111" stroke-width="2.1"/>
<path class="d" d="M59.0,364.6 L63.4,363 C65.6,363.4 67.4,366.4 66.6,369.0 L62,371.6 Z" />
<path class="d" d="M65.8,373.8 L71,372.4 C73.4,372.8 75,375.6 74.2,377.8 L69.4,380.8 Z" />
<path d="M58.4,363.6 L55.4,371.4 L60,374.5 M65.2,373 L62.6,380 L67.2,383.4" fill="none" stroke="#111" stroke-width="1.9" stroke-linejoin="round"/>
<path class="k" d="M60.4,365.4 L62.6,370.6 M67.6,374.6 L69.8,379.8" />
</g>
<g transform="translate(166.4,96.1)">
<path class="f" d="M67.6,386.6 L103.6,437.4 L101.6,360.7 C101.6,357.4 107.6,357.4 107.6,360.7 L108.9,441.4 C109.3,445.2 105.8,446.8 103.4,444.2 L63.4,390.2" />
<path class="t" d="M106.1,364.7 L107.3,438.6" />
<path class="f" d="M43,354.5 C43.5,351.8 47,351 49.6,353.8 L69.4,385 L69.2,389.6 L63.3,392 L49.6,375.6 L46.2,368.5 Z" />
<path class="t" d="M45.5,354.5 L50.5,368 L65.5,388.5" />
<path class="t" d="M50.5,368 L46.4,369.5 M54,372.5 L58.5,370" />
<path class="f" d="M51.4,333.5 C50.6,326 50.6,321 52.2,318.4 C53.6,316 55.6,315.2 57.6,315.6 C60.6,316.2 62.2,319.0 62,322.6 C61.6,328 61.6,333 62.6,337 C63.4,340.4 66.2,343.4 67.6,347.6 L68.8,354.6 L62,360 L56.5,362 L53.4,356 C52.4,350 52,340 51.4,333.5 Z" />
<path class="t" d="M55.2,320 C53.6,323 53.4,327 53.6,333 L54.4,352" />
<path class="k" d="M54,352 L52.6,357.5 L56.4,361.5" />
<path class="f" d="M66.6,355.4 L75.6,358.2 L73.4,368 L64,365 C62.6,361 64,356.6 66.6,355.4Z" />
<ellipse class="f" cx="76.2" cy="363.2" rx="3.9" ry="4.9" transform="rotate(18.0 76.2 363.2)"/>
<path d="M72.4,357.8 C70.6,360.6 70.4,364.6 71.6,367.2" fill="none" stroke="#111" stroke-width="2.1"/>
<path class="d" d="M59.0,364.6 L63.4,363 C65.6,363.4 67.4,366.4 66.6,369.0 L62,371.6 Z" />
<path class="d" d="M65.8,373.8 L71,372.4 C73.4,372.8 75,375.6 74.2,377.8 L69.4,380.8 Z" />
<path d="M58.4,363.6 L55.4,371.4 L60,374.5 M65.2,373 L62.6,380 L67.2,383.4" fill="none" stroke="#111" stroke-width="1.9" stroke-linejoin="round"/>
<path class="k" d="M60.4,365.4 L62.6,370.6 M67.6,374.6 L69.8,379.8" />
</g>
<g transform="translate(249.6,144.1)">
<path class="f" d="M67.6,386.6 L103.6,437.4 L101.6,360.7 C101.6,357.4 107.6,357.4 107.6,360.7 L108.9,441.4 C109.3,445.2 105.8,446.8 103.4,444.2 L63.4,390.2" />
<path class="t" d="M106.1,364.7 L107.3,438.6" />
<path class="f" d="M43,354.5 C43.5,351.8 47,351 49.6,353.8 L69.4,385 L69.2,389.6 L63.3,392 L49.6,375.6 L46.2,368.5 Z" />
<path class="t" d="M45.5,354.5 L50.5,368 L65.5,388.5" />
<path class="t" d="M50.5,368 L46.4,369.5 M54,372.5 L58.5,370" />
<path class="f" d="M51.4,333.5 C50.6,326 50.6,321 52.2,318.4 C53.6,316 55.6,315.2 57.6,315.6 C60.6,316.2 62.2,319.0 62,322.6 C61.6,328 61.6,333 62.6,337 C63.4,340.4 66.2,343.4 67.6,347.6 L68.8,354.6 L62,360 L56.5,362 L53.4,356 C52.4,350 52,340 51.4,333.5 Z" />
<path class="t" d="M55.2,320 C53.6,323 53.4,327 53.6,333 L54.4,352" />
<path class="k" d="M54,352 L52.6,357.5 L56.4,361.5" />
<path class="f" d="M66.6,355.4 L75.6,358.2 L73.4,368 L64,365 C62.6,361 64,356.6 66.6,355.4Z" />
<ellipse class="f" cx="76.2" cy="363.2" rx="3.9" ry="4.9" transform="rotate(18.0 76.2 363.2)"/>
<path d="M72.4,357.8 C70.6,360.6 70.4,364.6 71.6,367.2" fill="none" stroke="#111" stroke-width="2.1"/>
<path class="d" d="M59.0,364.6 L63.4,363 C65.6,363.4 67.4,366.4 66.6,369.0 L62,371.6 Z" />
<path class="d" d="M65.8,373.8 L71,372.4 C73.4,372.8 75,375.6 74.2,377.8 L69.4,380.8 Z" />
<path d="M58.4,363.6 L55.4,371.4 L60,374.5 M65.2,373 L62.6,380 L67.2,383.4" fill="none" stroke="#111" stroke-width="1.9" stroke-linejoin="round"/>
<path class="k" d="M60.4,365.4 L62.6,370.6 M67.6,374.6 L69.8,379.8" />
</g>
<g transform="translate(332.8,192.2)">
<path class="f" d="M67.6,386.6 L103.6,437.4 L101.6,360.7 C101.6,357.4 107.6,357.4 107.6,360.7 L108.9,441.4 C109.3,445.2 105.8,446.8 103.4,444.2 L63.4,390.2" />
<path class="t" d="M106.1,364.7 L107.3,438.6" />
<path class="f" d="M43,354.5 C43.5,351.8 47,351 49.6,353.8 L69.4,385 L69.2,389.6 L63.3,392 L49.6,375.6 L46.2,368.5 Z" />
<path class="t" d="M45.5,354.5 L50.5,368 L65.5,388.5" />
<path class="t" d="M50.5,368 L46.4,369.5 M54,372.5 L58.5,370" />
<path class="f" d="M51.4,333.5 C50.6,326 50.6,321 52.2,318.4 C53.6,316 55.6,315.2 57.6,315.6 C60.6,316.2 62.2,319.0 62,322.6 C61.6,328 61.6,333 62.6,337 C63.4,340.4 66.2,343.4 67.6,347.6 L68.8,354.6 L62,360 L56.5,362 L53.4,356 C52.4,350 52,340 51.4,333.5 Z" />
<path class="t" d="M55.2,320 C53.6,323 53.4,327 53.6,333 L54.4,352" />
<path class="k" d="M54,352 L52.6,357.5 L56.4,361.5" />
<path class="f" d="M66.6,355.4 L75.6,358.2 L73.4,368 L64,365 C62.6,361 64,356.6 66.6,355.4Z" />
<ellipse class="f" cx="76.2" cy="363.2" rx="3.9" ry="4.9" transform="rotate(18.0 76.2 363.2)"/>
<path d="M72.4,357.8 C70.6,360.6 70.4,364.6 71.6,367.2" fill="none" stroke="#111" stroke-width="2.1"/>
<path class="d" d="M59.0,364.6 L63.4,363 C65.6,363.4 67.4,366.4 66.6,369.0 L62,371.6 Z" />
<path class="d" d="M65.8,373.8 L71,372.4 C73.4,372.8 75,375.6 74.2,377.8 L69.4,380.8 Z" />
<path d="M58.4,363.6 L55.4,371.4 L60,374.5 M65.2,373 L62.6,380 L67.2,383.4" fill="none" stroke="#111" stroke-width="1.9" stroke-linejoin="round"/>
<path class="k" d="M60.4,365.4 L62.6,370.6 M67.6,374.6 L69.8,379.8" />
</g>
<g transform="translate(416.0,240.2)">
<path class="f" d="M67.6,386.6 L103.6,437.4 L101.6,360.7 C101.6,357.4 107.6,357.4 107.6,360.7 L108.9,441.4 C109.3,445.2 105.8,446.8 103.4,444.2 L63.4,390.2" />
<path class="t" d="M106.1,364.7 L107.3,438.6" />
<path class="f" d="M43,354.5 C43.5,351.8 47,351 49.6,353.8 L69.4,385 L69.2,389.6 L63.3,392 L49.6,375.6 L46.2,368.5 Z" />
<path class="t" d="M45.5,354.5 L50.5,368 L65.5,388.5" />
<path class="t" d="M50.5,368 L46.4,369.5 M54,372.5 L58.5,370" />
<path class="f" d="M51.4,333.5 C50.6,326 50.6,321 52.2,318.4 C53.6,316 55.6,315.2 57.6,315.6 C60.6,316.2 62.2,319.0 62,322.6 C61.6,328 61.6,333 62.6,337 C63.4,340.4 66.2,343.4 67.6,347.6 L68.8,354.6 L62,360 L56.5,362 L53.4,356 C52.4,350 52,340 51.4,333.5 Z" />
<path class="t" d="M55.2,320 C53.6,323 53.4,327 53.6,333 L54.4,352" />
<path class="k" d="M54,352 L52.6,357.5 L56.4,361.5" />
<path class="f" d="M66.6,355.4 L75.6,358.2 L73.4,368 L64,365 C62.6,361 64,356.6 66.6,355.4Z" />
<ellipse class="f" cx="76.2" cy="363.2" rx="3.9" ry="4.9" transform="rotate(18.0 76.2 363.2)"/>
<path d="M72.4,357.8 C70.6,360.6 70.4,364.6 71.6,367.2" fill="none" stroke="#111" stroke-width="2.1"/>
<path class="d" d="M59.0,364.6 L63.4,363 C65.6,363.4 67.4,366.4 66.6,369.0 L62,371.6 Z" />
<path class="d" d="M65.8,373.8 L71,372.4 C73.4,372.8 75,375.6 74.2,377.8 L69.4,380.8 Z" />
<path d="M58.4,363.6 L55.4,371.4 L60,374.5 M65.2,373 L62.6,380 L67.2,383.4" fill="none" stroke="#111" stroke-width="1.9" stroke-linejoin="round"/>
<path class="k" d="M60.4,365.4 L62.6,370.6 M67.6,374.6 L69.8,379.8" />
</g>
<g transform="translate(499.2,288.3)">
<path class="f" d="M67.6,386.6 L103.6,437.4 L101.6,360.7 C101.6,357.4 107.6,357.4 107.6,360.7 L108.9,441.4 C109.3,445.2 105.8,446.8 103.4,444.2 L63.4,390.2" />
<path class="t" d="M106.1,364.7 L107.3,438.6" />
<path class="f" d="M43,354.5 C43.5,351.8 47,351 49.6,353.8 L69.4,385 L69.2,389.6 L63.3,392 L49.6,375.6 L46.2,368.5 Z" />
<path class="t" d="M45.5,354.5 L50.5,368 L65.5,388.5" />
<path class="t" d="M50.5,368 L46.4,369.5 M54,372.5 L58.5,370" />
<path class="f" d="M51.4,333.5 C50.6,326 50.6,321 52.2,318.4 C53.6,316 55.6,315.2 57.6,315.6 C60.6,316.2 62.2,319.0 62,322.6 C61.6,328 61.6,333 62.6,337 C63.4,340.4 66.2,343.4 67.6,347.6 L68.8,354.6 L62,360 L56.5,362 L53.4,356 C52.4,350 52,340 51.4,333.5 Z" />
<path class="t" d="M55.2,320 C53.6,323 53.4,327 53.6,333 L54.4,352" />
<path class="k" d="M54,352 L52.6,357.5 L56.4,361.5" />
<path class="f" d="M66.6,355.4 L75.6,358.2 L73.4,368 L64,365 C62.6,361 64,356.6 66.6,355.4Z" />
<ellipse class="f" cx="76.2" cy="363.2" rx="3.9" ry="4.9" transform="rotate(18.0 76.2 363.2)"/>
<path d="M72.4,357.8 C70.6,360.6 70.4,364.6 71.6,367.2" fill="none" stroke="#111" stroke-width="2.1"/>
<path class="d" d="M59.0,364.6 L63.4,363 C65.6,363.4 67.4,366.4 66.6,369.0 L62,371.6 Z" />
<path class="d" d="M65.8,373.8 L71,372.4 C73.4,372.8 75,375.6 74.2,377.8 L69.4,380.8 Z" />
<path d="M58.4,363.6 L55.4,371.4 L60,374.5 M65.2,373 L62.6,380 L67.2,383.4" fill="none" stroke="#111" stroke-width="1.9" stroke-linejoin="round"/>
<path class="k" d="M60.4,365.4 L62.6,370.6 M67.6,374.6 L69.8,379.8" />
</g>
<g transform="translate(582.4,336.3)">
<path class="f" d="M67.6,386.6 L103.6,437.4 L101.6,360.7 C101.6,357.4 107.6,357.4 107.6,360.7 L108.9,441.4 C109.3,445.2 105.8,446.8 103.4,444.2 L63.4,390.2" />
<path class="t" d="M106.1,364.7 L107.3,438.6" />
<path class="f" d="M43,354.5 C43.5,351.8 47,351 49.6,353.8 L69.4,385 L69.2,389.6 L63.3,392 L49.6,375.6 L46.2,368.5 Z" />
<path class="t" d="M45.5,354.5 L50.5,368 L65.5,388.5" />
<path class="t" d="M50.5,368 L46.4,369.5 M54,372.5 L58.5,370" />
<path class="f" d="M51.4,333.5 C50.6,326 50.6,321 52.2,318.4 C53.6,316 55.6,315.2 57.6,315.6 C60.6,316.2 62.2,319.0 62,322.6 C61.6,328 61.6,333 62.6,337 C63.4,340.4 66.2,343.4 67.6,347.6 L68.8,354.6 L62,360 L56.5,362 L53.4,356 C52.4,350 52,340 51.4,333.5 Z" />
<path class="t" d="M55.2,320 C53.6,323 53.4,327 53.6,333 L54.4,352" />
<path class="k" d="M54,352 L52.6,357.5 L56.4,361.5" />
<path class="f" d="M66.6,355.4 L75.6,358.2 L73.4,368 L64,365 C62.6,361 64,356.6 66.6,355.4Z" />
<ellipse class="f" cx="76.2" cy="363.2" rx="3.9" ry="4.9" transform="rotate(18.0 76.2 363.2)"/>
<path d="M72.4,357.8 C70.6,360.6 70.4,364.6 71.6,367.2" fill="none" stroke="#111" stroke-width="2.1"/>
<path class="d" d="M59.0,364.6 L63.4,363 C65.6,363.4 67.4,366.4 66.6,369.0 L62,371.6 Z" />
<path class="d" d="M65.8,373.8 L71,372.4 C73.4,372.8 75,375.6 74.2,377.8 L69.4,380.8 Z" />
<path d="M58.4,363.6 L55.4,371.4 L60,374.5 M65.2,373 L62.6,380 L67.2,383.4" fill="none" stroke="#111" stroke-width="1.9" stroke-linejoin="round"/>
<path class="k" d="M60.4,365.4 L62.6,370.6 M67.6,374.6 L69.8,379.8" />
</g>
<g transform="translate(665.6,384.4)">
<path class="f" d="M67.6,386.6 L103.6,437.4 L101.6,360.7 C101.6,357.4 107.6,357.4 107.6,360.7 L108.9,441.4 C109.3,445.2 105.8,446.8 103.4,444.2 L63.4,390.2" />
<path class="t" d="M106.1,364.7 L107.3,438.6" />
<path class="f" d="M43,354.5 C43.5,351.8 47,351 49.6,353.8 L69.4,385 L69.2,389.6 L63.3,392 L49.6,375.6 L46.2,368.5 Z" />
<path class="t" d="M45.5,354.5 L50.5,368 L65.5,388.5" />
<path class="t" d="M50.5,368 L46.4,369.5 M54,372.5 L58.5,370" />
<path class="f" d="M51.4,333.5 C50.6,326 50.6,321 52.2,318.4 C53.6,316 55.6,315.2 57.6,315.6 C60.6,316.2 62.2,319.0 62,322.6 C61.6,328 61.6,333 62.6,337 C63.4,340.4 66.2,343.4 67.6,347.6 L68.8,354.6 L62,360 L56.5,362 L53.4,356 C52.4,350 52,340 51.4,333.5 Z" />
<path class="t" d="M55.2,320 C53.6,323 53.4,327 53.6,333 L54.4,352" />
<path class="k" d="M54,352 L52.6,357.5 L56.4,361.5" />
<path class="f" d="M66.6,355.4 L75.6,358.2 L73.4,368 L64,365 C62.6,361 64,356.6 66.6,355.4Z" />
<ellipse class="f" cx="76.2" cy="363.2" rx="3.9" ry="4.9" transform="rotate(18.0 76.2 363.2)"/>
<path d="M72.4,357.8 C70.6,360.6 70.4,364.6 71.6,367.2" fill="none" stroke="#111" stroke-width="2.1"/>
<path class="d" d="M59.0,364.6 L63.4,363 C65.6,363.4 67.4,366.4 66.6,369.0 L62,371.6 Z" />
<path class="d" d="M65.8,373.8 L71,372.4 C73.4,372.8 75,375.6 74.2,377.8 L69.4,380.8 Z" />
<path d="M58.4,363.6 L55.4,371.4 L60,374.5 M65.2,373 L62.6,380 L67.2,383.4" fill="none" stroke="#111" stroke-width="1.9" stroke-linejoin="round"/>
<path class="k" d="M60.4,365.4 L62.6,370.6 M67.6,374.6 L69.8,379.8" />
</g>
<g transform="translate(0.0,0.0)">
<g transform="translate(0.0,0.0)">
<path d="M497.5,170.6 L465.0,186.3 Q461.0,188.5 461.0,193.0 L461.0,216.5 Q461.0,221.0 465.0,218.6 L493.6,203.6" fill="none" stroke="#111" stroke-width="6.0" stroke-linejoin="round"/>
<path d="M497.5,170.6 L465.0,186.3 Q461.0,188.5 461.0,193.0 L461.0,216.5 Q461.0,221.0 465.0,218.6 L493.6,203.6" fill="none" stroke="#fcfefb" stroke-width="3.7" stroke-linejoin="round"/>
<path d="M497.5,170.6 L465.0,186.3 Q461.0,188.5 461.0,193.0 L461.0,216.5 Q461.0,221.0 465.0,218.6 L493.6,203.6" fill="none" stroke="#555" stroke-width="0.5" stroke-linejoin="round"/>
<path d="M497.5,170.6 l-9.5,5.4" fill="none" stroke="#1a1a1a" stroke-width="5.2"/>
<path d="M497.5,170.6 l-9.5,5.4" fill="none" stroke="#fcfefb" stroke-width="3.4" stroke-dasharray="0.45 1.1"/>
<ellipse class="f" cx="497.5" cy="170.6" rx="1.6" ry="2.6" transform="rotate(25.0 497.5 170.6)"/>
<path d="M493.6,203.6 l-9.5,5.4" fill="none" stroke="#1a1a1a" stroke-width="5.2"/>
<path d="M493.6,203.6 l-9.5,5.4" fill="none" stroke="#fcfefb" stroke-width="3.4" stroke-dasharray="0.45 1.1"/>
<ellipse class="f" cx="493.6" cy="203.6" rx="1.6" ry="2.6" transform="rotate(25.0 493.6 203.6)"/>
<path d="M527.3,189.0 L494.6,204.4 Q490.6,206.6 490.6,211.1 L490.6,234.9 Q490.6,239.4 494.6,237.0 L527.3,221.8" fill="none" stroke="#111" stroke-width="6.0" stroke-linejoin="round"/>
<path d="M527.3,189.0 L494.6,204.4 Q490.6,206.6 490.6,211.1 L490.6,234.9 Q490.6,239.4 494.6,237.0 L527.3,221.8" fill="none" stroke="#fcfefb" stroke-width="3.7" stroke-linejoin="round"/>
<path d="M527.3,189.0 L494.6,204.4 Q490.6,206.6 490.6,211.1 L490.6,234.9 Q490.6,239.4 494.6,237.0 L527.3,221.8" fill="none" stroke="#555" stroke-width="0.5" stroke-linejoin="round"/>
<path d="M527.3,189.0 l-9.5,5.4" fill="none" stroke="#1a1a1a" stroke-width="5.2"/>
<path d="M527.3,189.0 l-9.5,5.4" fill="none" stroke="#fcfefb" stroke-width="3.4" stroke-dasharray="0.45 1.1"/>
<ellipse class="f" cx="527.3" cy="189.0" rx="1.6" ry="2.6" transform="rotate(25.0 527.3 189.0)"/>
<path d="M527.3,221.8 l-9.5,5.4" fill="none" stroke="#1a1a1a" stroke-width="5.2"/>
<path d="M527.3,221.8 l-9.5,5.4" fill="none" stroke="#fcfefb" stroke-width="3.4" stroke-dasharray="0.45 1.1"/>
<ellipse class="f" cx="527.3" cy="221.8" rx="1.6" ry="2.6" transform="rotate(25.0 527.3 221.8)"/>
</g>
<path class="f" d="M559,153.6 L584,152 L622.5,151.4 C627.5,151.4 630.5,153.6 633.5,156 L707.5,199.0 C711.5,201.5 710.5,206 708.5,209.5 C706.5,213 703,216.5 698.5,214.6 L625.5,173.2 L623,172.5 L573,174.4 L570,180 Z" />
<path class="k" d="M559,153.6 L584,152 L622.5,151.4 C627.5,151.4 630.5,153.6 633.5,156 L707.5,199.0" />
<path class="k" d="M698.5,214.6 L625.5,173.2 L623,172.5 L573,174.4" />
<path class="t" d="M577.3,157.9 L626.8,155.9" />
<path class="l" d="M572.5,163.3 L627.8,159.9 C631,159.9 633.5,160.5 635.6,161.5 L700.5,202.6" />
<path class="l" d="M573,176 L576,177.6 L574.6,181 L573,181" />
<ellipse class="k" cx="704.4" cy="207.3" rx="2.1" ry="3.0" transform="rotate(25.0 704.4 207.3)"/>
<path class="t" d="M700.5,202.6 C698.5,206 698,210.5 698.5,214.6" />
<path class="f" d="M613.3,166.7 L618.1,165.2 L626.8,170.5 L623,173.3 Z" />
<path class="d2" d="M617.5,168.6 L624.6,172.4 L623,173.3 L616,169.4 Z" />
<path class="f" d="M529.0,142.6 C530,140 533,139.2 536,140.4 L570.2,159.4 C572,160.6 572.6,162 572.6,165 L572.6,199.5 C572.6,202.5 570,205.5 567,205 L531.2,185.2 C529,184 528.4,182 528.4,179 Z" />
<path class="l" d="M529.6,144.6 L566.4,165.2 C567.6,166 568,167 568,169 L568,203.8" />
<path class="t" d="M566.4,165.2 L571.5,160.5" />
<ellipse class="l" cx="533.4" cy="149.4" rx="1.8" ry="2.3" transform="rotate(20.0 533.4 149.4)"/>
<ellipse class="l" cx="564.0" cy="166.2" rx="1.8" ry="2.3" transform="rotate(20.0 564.0 166.2)"/>
<ellipse class="l" cx="533.4" cy="180.2" rx="1.8" ry="2.3" transform="rotate(20.0 533.4 180.2)"/>
<ellipse class="l" cx="564.0" cy="197.2" rx="1.8" ry="2.3" transform="rotate(20.0 564.0 197.2)"/>
<ellipse cx="616.6" cy="100.4" rx="3.5" ry="5.7" transform="rotate(-30 616.6 100.4)" fill="#fcfefb" stroke="#111" stroke-width="1.5"/>
<ellipse cx="616.6" cy="100.4" rx="1.5" ry="2.6" transform="rotate(-30 616.6 100.4)" fill="none" stroke="#111" stroke-width="1.1"/>
<ellipse cx="627.5" cy="94.9" rx="3.6" ry="5.5" transform="rotate(-30 627.5 94.9)" fill="#fcfefb" stroke="#111" stroke-width="1.6"/>
<ellipse cx="629.3" cy="93.9" rx="3.6" ry="5.5" transform="rotate(-30 629.3 93.9)" fill="#fcfefb" stroke="#111" stroke-width="1.6"/>
<ellipse cx="629.3" cy="93.9" rx="1.7" ry="2.8" transform="rotate(-30 629.3 93.9)" fill="none" stroke="#111" stroke-width="1.5"/>
<path class="k" d="M624.7,90.3 l2,-1.1 M630.3,99.5 l2,-1.1" />
<ellipse cx="616.6" cy="131.8" rx="3.5" ry="5.7" transform="rotate(-30 616.6 131.8)" fill="#fcfefb" stroke="#111" stroke-width="1.5"/>
<ellipse cx="616.6" cy="131.8" rx="1.5" ry="2.6" transform="rotate(-30 616.6 131.8)" fill="none" stroke="#111" stroke-width="1.1"/>
<ellipse cx="627.3" cy="125.9" rx="3.6" ry="5.5" transform="rotate(-30 627.3 125.9)" fill="#fcfefb" stroke="#111" stroke-width="1.6"/>
<ellipse cx="629.1" cy="124.9" rx="3.6" ry="5.5" transform="rotate(-30 629.1 124.9)" fill="#fcfefb" stroke="#111" stroke-width="1.6"/>
<ellipse cx="629.1" cy="124.9" rx="1.7" ry="2.8" transform="rotate(-30 629.1 124.9)" fill="none" stroke="#111" stroke-width="1.5"/>
<path class="k" d="M624.5,121.3 l2,-1.1 M630.1,130.5 l2,-1.1" />
<ellipse cx="646.5" cy="118.0" rx="3.5" ry="5.7" transform="rotate(-30 646.5 118.0)" fill="#fcfefb" stroke="#111" stroke-width="1.5"/>
<ellipse cx="646.5" cy="118.0" rx="1.5" ry="2.6" transform="rotate(-30 646.5 118.0)" fill="none" stroke="#111" stroke-width="1.1"/>
<ellipse cx="657.3" cy="111.9" rx="3.6" ry="5.5" transform="rotate(-30 657.3 111.9)" fill="#fcfefb" stroke="#111" stroke-width="1.6"/>
<ellipse cx="659.1" cy="110.9" rx="3.6" ry="5.5" transform="rotate(-30 659.1 110.9)" fill="#fcfefb" stroke="#111" stroke-width="1.6"/>
<ellipse cx="659.1" cy="110.9" rx="1.7" ry="2.8" transform="rotate(-30 659.1 110.9)" fill="none" stroke="#111" stroke-width="1.5"/>
<path class="k" d="M654.5,107.3 l2,-1.1 M660.1,116.5 l2,-1.1" />
<ellipse cx="646.5" cy="149.2" rx="3.5" ry="5.7" transform="rotate(-30 646.5 149.2)" fill="#fcfefb" stroke="#111" stroke-width="1.5"/>
<ellipse cx="646.5" cy="149.2" rx="1.5" ry="2.6" transform="rotate(-30 646.5 149.2)" fill="none" stroke="#111" stroke-width="1.1"/>
<ellipse cx="657.3" cy="143.1" rx="3.6" ry="5.5" transform="rotate(-30 657.3 143.1)" fill="#fcfefb" stroke="#111" stroke-width="1.6"/>
<ellipse cx="659.1" cy="142.0" rx="3.6" ry="5.5" transform="rotate(-30 659.1 142.0)" fill="#fcfefb" stroke="#111" stroke-width="1.6"/>
<ellipse cx="659.1" cy="142.0" rx="1.7" ry="2.8" transform="rotate(-30 659.1 142.0)" fill="none" stroke="#111" stroke-width="1.5"/>
<path class="k" d="M654.5,138.5 l2,-1.1 M660.1,147.7 l2,-1.1" />
</g>
<g transform="translate(-392.6,-67.5)">
<g transform="translate(-6.5,3.0)">
<path d="M497.5,170.6 L465.0,186.3 Q461.0,188.5 461.0,193.0 L461.0,216.5 Q461.0,221.0 465.0,218.6 L493.6,203.6" fill="none" stroke="#111" stroke-width="6.0" stroke-linejoin="round"/>
<path d="M497.5,170.6 L465.0,186.3 Q461.0,188.5 461.0,193.0 L461.0,216.5 Q461.0,221.0 465.0,218.6 L493.6,203.6" fill="none" stroke="#fcfefb" stroke-width="3.7" stroke-linejoin="round"/>
<path d="M497.5,170.6 L465.0,186.3 Q461.0,188.5 461.0,193.0 L461.0,216.5 Q461.0,221.0 465.0,218.6 L493.6,203.6" fill="none" stroke="#555" stroke-width="0.5" stroke-linejoin="round"/>
<path d="M497.5,170.6 l-9.5,5.4" fill="none" stroke="#1a1a1a" stroke-width="5.2"/>
<path d="M497.5,170.6 l-9.5,5.4" fill="none" stroke="#fcfefb" stroke-width="3.4" stroke-dasharray="0.45 1.1"/>
<ellipse class="f" cx="497.5" cy="170.6" rx="1.6" ry="2.6" transform="rotate(25.0 497.5 170.6)"/>
<path d="M493.6,203.6 l-9.5,5.4" fill="none" stroke="#1a1a1a" stroke-width="5.2"/>
<path d="M493.6,203.6 l-9.5,5.4" fill="none" stroke="#fcfefb" stroke-width="3.4" stroke-dasharray="0.45 1.1"/>
<ellipse class="f" cx="493.6" cy="203.6" rx="1.6" ry="2.6" transform="rotate(25.0 493.6 203.6)"/>
<path d="M527.3,189.0 L494.6,204.4 Q490.6,206.6 490.6,211.1 L490.6,234.9 Q490.6,239.4 494.6,237.0 L527.3,221.8" fill="none" stroke="#111" stroke-width="6.0" stroke-linejoin="round"/>
<path d="M527.3,189.0 L494.6,204.4 Q490.6,206.6 490.6,211.1 L490.6,234.9 Q490.6,239.4 494.6,237.0 L527.3,221.8" fill="none" stroke="#fcfefb" stroke-width="3.7" stroke-linejoin="round"/>
<path d="M527.3,189.0 L494.6,204.4 Q490.6,206.6 490.6,211.1 L490.6,234.9 Q490.6,239.4 494.6,237.0 L527.3,221.8" fill="none" stroke="#555" stroke-width="0.5" stroke-linejoin="round"/>
<path d="M527.3,189.0 l-9.5,5.4" fill="none" stroke="#1a1a1a" stroke-width="5.2"/>
<path d="M527.3,189.0 l-9.5,5.4" fill="none" stroke="#fcfefb" stroke-width="3.4" stroke-dasharray="0.45 1.1"/>
<ellipse class="f" cx="527.3" cy="189.0" rx="1.6" ry="2.6" transform="rotate(25.0 527.3 189.0)"/>
<path d="M527.3,221.8 l-9.5,5.4" fill="none" stroke="#1a1a1a" stroke-width="5.2"/>
<path d="M527.3,221.8 l-9.5,5.4" fill="none" stroke="#fcfefb" stroke-width="3.4" stroke-dasharray="0.45 1.1"/>
<ellipse class="f" cx="527.3" cy="221.8" rx="1.6" ry="2.6" transform="rotate(25.0 527.3 221.8)"/>
</g>
<path class="f" d="M559,153.6 L584,152 L622.5,151.4 C627.5,151.4 630.5,153.6 633.5,156 L707.5,199.0 C711.5,201.5 710.5,206 708.5,209.5 C706.5,213 703,216.5 698.5,214.6 L625.5,173.2 L623,172.5 L573,174.4 L570,180 Z" />
<path class="k" d="M559,153.6 L584,152 L622.5,151.4 C627.5,151.4 630.5,153.6 633.5,156 L707.5,199.0" />
<path class="k" d="M698.5,214.6 L625.5,173.2 L623,172.5 L573,174.4" />
<path class="t" d="M577.3,157.9 L626.8,155.9" />
<path class="l" d="M572.5,163.3 L627.8,159.9 C631,159.9 633.5,160.5 635.6,161.5 L700.5,202.6" />
<path class="l" d="M573,176 L576,177.6 L574.6,181 L573,181" />
<ellipse class="k" cx="704.4" cy="207.3" rx="2.1" ry="3.0" transform="rotate(25.0 704.4 207.3)"/>
<path class="t" d="M700.5,202.6 C698.5,206 698,210.5 698.5,214.6" />
<path class="f" d="M613.3,166.7 L618.1,165.2 L626.8,170.5 L623,173.3 Z" />
<path class="d2" d="M617.5,168.6 L624.6,172.4 L623,173.3 L616,169.4 Z" />
<path class="f" d="M529.0,142.6 C530,140 533,139.2 536,140.4 L570.2,159.4 C572,160.6 572.6,162 572.6,165 L572.6,199.5 C572.6,202.5 570,205.5 567,205 L531.2,185.2 C529,184 528.4,182 528.4,179 Z" />
<path class="l" d="M529.6,144.6 L566.4,165.2 C567.6,166 568,167 568,169 L568,203.8" />
<path class="t" d="M566.4,165.2 L571.5,160.5" />
<ellipse class="l" cx="533.4" cy="149.4" rx="1.8" ry="2.3" transform="rotate(20.0 533.4 149.4)"/>
<ellipse class="l" cx="564.0" cy="166.2" rx="1.8" ry="2.3" transform="rotate(20.0 564.0 166.2)"/>
<ellipse class="l" cx="533.4" cy="180.2" rx="1.8" ry="2.3" transform="rotate(20.0 533.4 180.2)"/>
<ellipse class="l" cx="564.0" cy="197.2" rx="1.8" ry="2.3" transform="rotate(20.0 564.0 197.2)"/>
<ellipse cx="616.6" cy="100.4" rx="3.5" ry="5.7" transform="rotate(-30 616.6 100.4)" fill="#fcfefb" stroke="#111" stroke-width="1.5"/>
<ellipse cx="616.6" cy="100.4" rx="1.5" ry="2.6" transform="rotate(-30 616.6 100.4)" fill="none" stroke="#111" stroke-width="1.1"/>
<ellipse cx="627.5" cy="94.9" rx="3.6" ry="5.5" transform="rotate(-30 627.5 94.9)" fill="#fcfefb" stroke="#111" stroke-width="1.6"/>
<ellipse cx="629.3" cy="93.9" rx="3.6" ry="5.5" transform="rotate(-30 629.3 93.9)" fill="#fcfefb" stroke="#111" stroke-width="1.6"/>
<ellipse cx="629.3" cy="93.9" rx="1.7" ry="2.8" transform="rotate(-30 629.3 93.9)" fill="none" stroke="#111" stroke-width="1.5"/>
<path class="k" d="M624.7,90.3 l2,-1.1 M630.3,99.5 l2,-1.1" />
<ellipse cx="616.6" cy="131.8" rx="3.5" ry="5.7" transform="rotate(-30 616.6 131.8)" fill="#fcfefb" stroke="#111" stroke-width="1.5"/>
<ellipse cx="616.6" cy="131.8" rx="1.5" ry="2.6" transform="rotate(-30 616.6 131.8)" fill="none" stroke="#111" stroke-width="1.1"/>
<ellipse cx="627.3" cy="125.9" rx="3.6" ry="5.5" transform="rotate(-30 627.3 125.9)" fill="#fcfefb" stroke="#111" stroke-width="1.6"/>
<ellipse cx="629.1" cy="124.9" rx="3.6" ry="5.5" transform="rotate(-30 629.1 124.9)" fill="#fcfefb" stroke="#111" stroke-width="1.6"/>
<ellipse cx="629.1" cy="124.9" rx="1.7" ry="2.8" transform="rotate(-30 629.1 124.9)" fill="none" stroke="#111" stroke-width="1.5"/>
<path class="k" d="M624.5,121.3 l2,-1.1 M630.1,130.5 l2,-1.1" />
<ellipse cx="646.5" cy="118.0" rx="3.5" ry="5.7" transform="rotate(-30 646.5 118.0)" fill="#fcfefb" stroke="#111" stroke-width="1.5"/>
<ellipse cx="646.5" cy="118.0" rx="1.5" ry="2.6" transform="rotate(-30 646.5 118.0)" fill="none" stroke="#111" stroke-width="1.1"/>
<ellipse cx="657.3" cy="111.9" rx="3.6" ry="5.5" transform="rotate(-30 657.3 111.9)" fill="#fcfefb" stroke="#111" stroke-width="1.6"/>
<ellipse cx="659.1" cy="110.9" rx="3.6" ry="5.5" transform="rotate(-30 659.1 110.9)" fill="#fcfefb" stroke="#111" stroke-width="1.6"/>
<ellipse cx="659.1" cy="110.9" rx="1.7" ry="2.8" transform="rotate(-30 659.1 110.9)" fill="none" stroke="#111" stroke-width="1.5"/>
<path class="k" d="M654.5,107.3 l2,-1.1 M660.1,116.5 l2,-1.1" />
<ellipse cx="646.5" cy="149.2" rx="3.5" ry="5.7" transform="rotate(-30 646.5 149.2)" fill="#fcfefb" stroke="#111" stroke-width="1.5"/>
<ellipse cx="646.5" cy="149.2" rx="1.5" ry="2.6" transform="rotate(-30 646.5 149.2)" fill="none" stroke="#111" stroke-width="1.1"/>
<ellipse cx="657.3" cy="143.1" rx="3.6" ry="5.5" transform="rotate(-30 657.3 143.1)" fill="#fcfefb" stroke="#111" stroke-width="1.6"/>
<ellipse cx="659.1" cy="142.0" rx="3.6" ry="5.5" transform="rotate(-30 659.1 142.0)" fill="#fcfefb" stroke="#111" stroke-width="1.6"/>
<ellipse cx="659.1" cy="142.0" rx="1.7" ry="2.8" transform="rotate(-30 659.1 142.0)" fill="none" stroke="#111" stroke-width="1.5"/>
<path class="k" d="M654.5,138.5 l2,-1.1 M660.1,147.7 l2,-1.1" />
</g>
<g transform="translate(268.6,166.6) rotate(-3.2)">
<path class="sb" d="M-33,-8.6 L36,-8.6 A5,8.6 0 0 1 36,8.6 L-33,8.6 A6.5,8.6 0 0 1 -33,-8.6Z"/>
<ellipse class="sc" cx="-27.00" cy="0" rx="5" ry="8.4" style="stroke-width:0.85" transform="rotate(8 -27.00 0)"/>
<ellipse class="sc" cx="-24.18" cy="0" rx="5" ry="8.4" style="stroke-width:0.85" transform="rotate(8 -24.18 0)"/>
<ellipse class="sc" cx="-21.36" cy="0" rx="5" ry="8.4" style="stroke-width:0.85" transform="rotate(8 -21.36 0)"/>
<ellipse class="sc" cx="-18.55" cy="0" rx="5" ry="8.4" style="stroke-width:0.85" transform="rotate(8 -18.55 0)"/>
<ellipse class="sc" cx="-15.73" cy="0" rx="5" ry="8.4" style="stroke-width:0.85" transform="rotate(8 -15.73 0)"/>
<ellipse class="sc" cx="-12.91" cy="0" rx="5" ry="8.4" style="stroke-width:0.85" transform="rotate(8 -12.91 0)"/>
<ellipse class="sc" cx="-10.09" cy="0" rx="5" ry="8.4" style="stroke-width:0.85" transform="rotate(8 -10.09 0)"/>
<ellipse class="sc" cx="-7.27" cy="0" rx="5" ry="8.4" style="stroke-width:0.85" transform="rotate(8 -7.27 0)"/>
<ellipse class="sc" cx="-4.45" cy="0" rx="5" ry="8.4" style="stroke-width:0.85" transform="rotate(8 -4.45 0)"/>
<ellipse class="sc" cx="-1.64" cy="0" rx="5" ry="8.4" style="stroke-width:0.85" transform="rotate(8 -1.64 0)"/>
<ellipse class="sc" cx="1.18" cy="0" rx="5" ry="8.4" style="stroke-width:0.85" transform="rotate(8 1.18 0)"/>
<ellipse class="sc" cx="4.00" cy="0" rx="5" ry="8.4" style="stroke-width:0.85" transform="rotate(8 4.00 0)"/>
<ellipse class="sc" cx="6.82" cy="0" rx="5" ry="8.4" style="stroke-width:0.85" transform="rotate(8 6.82 0)"/>
<ellipse class="sc" cx="9.64" cy="0" rx="5" ry="8.4" style="stroke-width:0.85" transform="rotate(8 9.64 0)"/>
<ellipse class="sc" cx="12.45" cy="0" rx="5" ry="8.4" style="stroke-width:0.85" transform="rotate(8 12.45 0)"/>
<ellipse class="sc" cx="15.27" cy="0" rx="5" ry="8.4" style="stroke-width:0.85" transform="rotate(8 15.27 0)"/>
<ellipse class="sc" cx="18.09" cy="0" rx="5" ry="8.4" style="stroke-width:0.85" transform="rotate(8 18.09 0)"/>
<ellipse class="sc" cx="20.91" cy="0" rx="5" ry="8.4" style="stroke-width:0.85" transform="rotate(8 20.91 0)"/>
<ellipse class="sc" cx="23.73" cy="0" rx="5" ry="8.4" style="stroke-width:0.85" transform="rotate(8 23.73 0)"/>
<ellipse class="sc" cx="26.55" cy="0" rx="5" ry="8.4" style="stroke-width:0.85" transform="rotate(8 26.55 0)"/>
<ellipse class="sc" cx="29.36" cy="0" rx="5" ry="8.4" style="stroke-width:0.85" transform="rotate(8 29.36 0)"/>
<ellipse class="sc" cx="32.18" cy="0" rx="5" ry="8.4" style="stroke-width:0.85" transform="rotate(8 32.18 0)"/>
<ellipse class="sc" cx="35.00" cy="0" rx="5" ry="8.4" style="stroke-width:0.85" transform="rotate(8 35.00 0)"/>
<ellipse class="sc2" cx="-32.6" cy="0.2" rx="7" ry="8.8" style="stroke-width:1.5"/>
<ellipse class="sc" cx="-32" cy="0.4" rx="5" ry="6.6"/>
<ellipse class="sc" cx="-30.6" cy="0.6" rx="3.4" ry="5"/>
<path class="sc2" d="M36,-8.6 A4.6,8.6 0 0 1 36,8.6"/>
<path class="sc" d="M-31,-8.8 L36,-8.8" style="stroke-width:2"/>
<path class="sc" d="M-31,8.8 L36,8.8" style="stroke-width:1.3"/>
</g>
<g transform="translate(0.0,0.0)">
<path class="f" d="M333,249.2 C334,247.6 335.6,247.4 337,248 L349.6,255.6 C351,256.6 351,259.0 350.2,259.8 L347,263 C345.6,264.2 344.4,264.2 343,264 C339,267 337.4,271.6 339.0,276 C339.6,278.4 339.0,281 336.6,282.6 L334.6,283.8 C333.4,284.4 332.4,284.2 331,283.4 L320.4,276.8 C319,275.8 318.8,274.4 319.6,273 Z" />
<path class="t" d="M342.2,252.4 L330.8,279.0" />
<path class="t" d="M343,264 L340,262 M339.0,276 L335.6,274.4" />
<ellipse class="l" cx="337.6" cy="253.9" rx="2.5" ry="2.9" transform="rotate(20.0 337.6 253.9)"/>
<ellipse class="t" cx="337.6" cy="253.9" rx="1.2" ry="1.5" transform="rotate(20.0 337.6 253.9)"/>
<ellipse class="l" cx="325.2" cy="275.2" rx="2.5" ry="2.9" transform="rotate(20.0 325.2 275.2)"/>
<ellipse class="t" cx="325.2" cy="275.2" rx="1.2" ry="1.5" transform="rotate(20.0 325.2 275.2)"/>
<path class="f" d="M352.2,264.8 L355.4,260.8 C356,260 357,260 357.8,260.6 L363.4,264.6 C364.2,265.2 364.2,266 364,266.8 L362.6,271 C362.2,272 361,272.2 360,272 C359,272 358,271.4 357,270.8 L352.6,268 C351.8,267.2 351.6,265.8 352.2,264.8Z" />
<ellipse class="t" cx="359.0" cy="266.2" rx="0.9" ry="1.2" transform="rotate(20.0 359.0 266.2)"/>
<path class="f" d="M340.6,286 L344,281.6 C344.6,280.8 345.6,280.8 346.4,281.4 L352.8,285.8 C353.6,286.4 353.6,287.2 353.4,288 L351.6,292 C351.2,293 350,293.2 349,293 C348,293 347,292.4 346,291.8 L341,288.8 C340.2,288 340,286.8 340.6,286Z" />
<ellipse class="t" cx="347.4" cy="287.4" rx="0.9" ry="1.2" transform="rotate(20.0 347.4 287.4)"/>
<path class="f" d="M369.6,269.0 C370.6,267.6 372.2,267.6 373.4,268.2 L385.2,276 C386.4,277 386.4,279.0 385.8,279.8 L372.4,302.6 C371.4,304.2 369.6,305 368,304.2 L355.6,296.8 C354.2,295.8 354,294.2 354.6,292.8 Z" />
<path d="M369.4,269.6 C370.8,278 365.6,288 355.8,293.4 L360.2,299.6 C371.6,293.6 378.6,283 377.4,273.4 Z" fill="#fcfefb" stroke="#111" stroke-width="1.4"/>
<path d="M370.2,270.2 C371.6,278.6 366.6,288.0 357.0,294.2" fill="none" stroke="#111" stroke-width="1.25"/>
<path d="M372.1,271.1 C373.5,279.6 368.5,289.3 358.1,295.9" fill="none" stroke="#111" stroke-width="1.25"/>
<path d="M374.0,271.9 C375.4,280.5 370.4,290.7 359.3,297.6" fill="none" stroke="#111" stroke-width="1.25"/>
<path d="M375.9,272.8 C377.3,281.5 372.3,292.0 360.4,299.3" fill="none" stroke="#111" stroke-width="1.25"/>
<path d="M377.8,273.6 C379.2,282.4 374.2,293.3 361.6,301.0" fill="none" stroke="#111" stroke-width="1.25"/>
<path class="k" d="M368.6,269.8 L372,269 L378,273 L377.4,276 M355,292.4 L357,290.2 L363,294.2 L361.8,299.6" />
<ellipse class="k" cx="358.6" cy="294.6" rx="2.0" ry="2.6" transform="rotate(20.0 358.6 294.6)"/>
<ellipse class="k" cx="362.8" cy="297.0" rx="1.7" ry="2.3" transform="rotate(20.0 362.8 297.0)"/>
<ellipse class="k" cx="372.4" cy="272.0" rx="1.6" ry="2.1" transform="rotate(20.0 372.4 272.0)"/>
<ellipse class="k" cx="375.6" cy="274.2" rx="1.3" ry="1.8" transform="rotate(20.0 375.6 274.2)"/>
<ellipse class="f" cx="390.8" cy="284.3" rx="3.5" ry="4.4" transform="rotate(30.0 390.8 284.3)"/>
<ellipse class="k" cx="390.8" cy="284.3" rx="1.6" ry="2.1" transform="rotate(30.0 390.8 284.3)"/>
<ellipse class="f" cx="378.3" cy="305.7" rx="3.5" ry="4.4" transform="rotate(30.0 378.3 305.7)"/>
<ellipse class="k" cx="378.3" cy="305.7" rx="1.6" ry="2.1" transform="rotate(30.0 378.3 305.7)"/>
<path d="M397.6,289.2 L415.6,298.0" fill="none" stroke="#111" stroke-width="3.6" stroke-linecap="round"/>
<path d="M397.6,289.2 L406.6,293.6" fill="none" stroke="#fcfefb" stroke-width="1.5" stroke-dasharray="1 1.1"/>
<path d="M406.6,293.6 L414.1,297.2" fill="none" stroke="#fcfefb" stroke-width="1.6"/>
<ellipse class="d2" cx="415.6" cy="298.0" rx="1.9" ry="2.8" transform="rotate(25.0 415.6 298.0)"/>
<path d="M385.6,310.0 L403.6,319.0" fill="none" stroke="#111" stroke-width="3.6" stroke-linecap="round"/>
<path d="M385.6,310.0 L394.6,314.5" fill="none" stroke="#fcfefb" stroke-width="1.5" stroke-dasharray="1 1.1"/>
<path d="M394.6,314.5 L402.1,318.2" fill="none" stroke="#fcfefb" stroke-width="1.6"/>
<ellipse class="d2" cx="403.6" cy="319.0" rx="1.9" ry="2.8" transform="rotate(25.0 403.6 319.0)"/>
</g>
<g transform="translate(223.6,129.2)">
<path class="f" d="M333,249.2 C334,247.6 335.6,247.4 337,248 L349.6,255.6 C351,256.6 351,259.0 350.2,259.8 L347,263 C345.6,264.2 344.4,264.2 343,264 C339,267 337.4,271.6 339.0,276 C339.6,278.4 339.0,281 336.6,282.6 L334.6,283.8 C333.4,284.4 332.4,284.2 331,283.4 L320.4,276.8 C319,275.8 318.8,274.4 319.6,273 Z" />
<path class="t" d="M342.2,252.4 L330.8,279.0" />
<path class="t" d="M343,264 L340,262 M339.0,276 L335.6,274.4" />
<ellipse class="l" cx="337.6" cy="253.9" rx="2.5" ry="2.9" transform="rotate(20.0 337.6 253.9)"/>
<ellipse class="t" cx="337.6" cy="253.9" rx="1.2" ry="1.5" transform="rotate(20.0 337.6 253.9)"/>
<ellipse class="l" cx="325.2" cy="275.2" rx="2.5" ry="2.9" transform="rotate(20.0 325.2 275.2)"/>
<ellipse class="t" cx="325.2" cy="275.2" rx="1.2" ry="1.5" transform="rotate(20.0 325.2 275.2)"/>
<path class="f" d="M352.2,264.8 L355.4,260.8 C356,260 357,260 357.8,260.6 L363.4,264.6 C364.2,265.2 364.2,266 364,266.8 L362.6,271 C362.2,272 361,272.2 360,272 C359,272 358,271.4 357,270.8 L352.6,268 C351.8,267.2 351.6,265.8 352.2,264.8Z" />
<ellipse class="t" cx="359.0" cy="266.2" rx="0.9" ry="1.2" transform="rotate(20.0 359.0 266.2)"/>
<path class="f" d="M340.6,286 L344,281.6 C344.6,280.8 345.6,280.8 346.4,281.4 L352.8,285.8 C353.6,286.4 353.6,287.2 353.4,288 L351.6,292 C351.2,293 350,293.2 349,293 C348,293 347,292.4 346,291.8 L341,288.8 C340.2,288 340,286.8 340.6,286Z" />
<ellipse class="t" cx="347.4" cy="287.4" rx="0.9" ry="1.2" transform="rotate(20.0 347.4 287.4)"/>
<path class="f" d="M369.6,269.0 C370.6,267.6 372.2,267.6 373.4,268.2 L385.2,276 C386.4,277 386.4,279.0 385.8,279.8 L372.4,302.6 C371.4,304.2 369.6,305 368,304.2 L355.6,296.8 C354.2,295.8 354,294.2 354.6,292.8 Z" />
<path d="M369.4,269.6 C370.8,278 365.6,288 355.8,293.4 L360.2,299.6 C371.6,293.6 378.6,283 377.4,273.4 Z" fill="#fcfefb" stroke="#111" stroke-width="1.4"/>
<path d="M370.2,270.2 C371.6,278.6 366.6,288.0 357.0,294.2" fill="none" stroke="#111" stroke-width="1.25"/>
<path d="M372.1,271.1 C373.5,279.6 368.5,289.3 358.1,295.9" fill="none" stroke="#111" stroke-width="1.25"/>
<path d="M374.0,271.9 C375.4,280.5 370.4,290.7 359.3,297.6" fill="none" stroke="#111" stroke-width="1.25"/>
<path d="M375.9,272.8 C377.3,281.5 372.3,292.0 360.4,299.3" fill="none" stroke="#111" stroke-width="1.25"/>
<path d="M377.8,273.6 C379.2,282.4 374.2,293.3 361.6,301.0" fill="none" stroke="#111" stroke-width="1.25"/>
<path class="k" d="M368.6,269.8 L372,269 L378,273 L377.4,276 M355,292.4 L357,290.2 L363,294.2 L361.8,299.6" />
<ellipse class="k" cx="358.6" cy="294.6" rx="2.0" ry="2.6" transform="rotate(20.0 358.6 294.6)"/>
<ellipse class="k" cx="362.8" cy="297.0" rx="1.7" ry="2.3" transform="rotate(20.0 362.8 297.0)"/>
<ellipse class="k" cx="372.4" cy="272.0" rx="1.6" ry="2.1" transform="rotate(20.0 372.4 272.0)"/>
<ellipse class="k" cx="375.6" cy="274.2" rx="1.3" ry="1.8" transform="rotate(20.0 375.6 274.2)"/>
<ellipse class="f" cx="390.8" cy="284.3" rx="3.5" ry="4.4" transform="rotate(30.0 390.8 284.3)"/>
<ellipse class="k" cx="390.8" cy="284.3" rx="1.6" ry="2.1" transform="rotate(30.0 390.8 284.3)"/>
<ellipse class="f" cx="378.3" cy="305.7" rx="3.5" ry="4.4" transform="rotate(30.0 378.3 305.7)"/>
<ellipse class="k" cx="378.3" cy="305.7" rx="1.6" ry="2.1" transform="rotate(30.0 378.3 305.7)"/>
<path d="M397.6,289.2 L415.6,298.0" fill="none" stroke="#111" stroke-width="3.6" stroke-linecap="round"/>
<path d="M397.6,289.2 L406.6,293.6" fill="none" stroke="#fcfefb" stroke-width="1.5" stroke-dasharray="1 1.1"/>
<path d="M406.6,293.6 L414.1,297.2" fill="none" stroke="#fcfefb" stroke-width="1.6"/>
<ellipse class="d2" cx="415.6" cy="298.0" rx="1.9" ry="2.8" transform="rotate(25.0 415.6 298.0)"/>
<path d="M385.6,310.0 L403.6,319.0" fill="none" stroke="#111" stroke-width="3.6" stroke-linecap="round"/>
<path d="M385.6,310.0 L394.6,314.5" fill="none" stroke="#fcfefb" stroke-width="1.5" stroke-dasharray="1 1.1"/>
<path d="M394.6,314.5 L402.1,318.2" fill="none" stroke="#fcfefb" stroke-width="1.6"/>
<ellipse class="d2" cx="403.6" cy="319.0" rx="1.9" ry="2.8" transform="rotate(25.0 403.6 319.0)"/>
</g>
<g transform="translate(329.9,191.0)">
<path class="f" d="M333,249.2 C334,247.6 335.6,247.4 337,248 L349.6,255.6 C351,256.6 351,259.0 350.2,259.8 L347,263 C345.6,264.2 344.4,264.2 343,264 C339,267 337.4,271.6 339.0,276 C339.6,278.4 339.0,281 336.6,282.6 L334.6,283.8 C333.4,284.4 332.4,284.2 331,283.4 L320.4,276.8 C319,275.8 318.8,274.4 319.6,273 Z" />
<path class="t" d="M342.2,252.4 L330.8,279.0" />
<path class="t" d="M343,264 L340,262 M339.0,276 L335.6,274.4" />
<ellipse class="l" cx="337.6" cy="253.9" rx="2.5" ry="2.9" transform="rotate(20.0 337.6 253.9)"/>
<ellipse class="t" cx="337.6" cy="253.9" rx="1.2" ry="1.5" transform="rotate(20.0 337.6 253.9)"/>
<ellipse class="l" cx="325.2" cy="275.2" rx="2.5" ry="2.9" transform="rotate(20.0 325.2 275.2)"/>
<ellipse class="t" cx="325.2" cy="275.2" rx="1.2" ry="1.5" transform="rotate(20.0 325.2 275.2)"/>
<path class="f" d="M352.2,264.8 L355.4,260.8 C356,260 357,260 357.8,260.6 L363.4,264.6 C364.2,265.2 364.2,266 364,266.8 L362.6,271 C362.2,272 361,272.2 360,272 C359,272 358,271.4 357,270.8 L352.6,268 C351.8,267.2 351.6,265.8 352.2,264.8Z" />
<ellipse class="t" cx="359.0" cy="266.2" rx="0.9" ry="1.2" transform="rotate(20.0 359.0 266.2)"/>
<path class="f" d="M340.6,286 L344,281.6 C344.6,280.8 345.6,280.8 346.4,281.4 L352.8,285.8 C353.6,286.4 353.6,287.2 353.4,288 L351.6,292 C351.2,293 350,293.2 349,293 C348,293 347,292.4 346,291.8 L341,288.8 C340.2,288 340,286.8 340.6,286Z" />
<ellipse class="t" cx="347.4" cy="287.4" rx="0.9" ry="1.2" transform="rotate(20.0 347.4 287.4)"/>
<path class="f" d="M369.6,269.0 C370.6,267.6 372.2,267.6 373.4,268.2 L385.2,276 C386.4,277 386.4,279.0 385.8,279.8 L372.4,302.6 C371.4,304.2 369.6,305 368,304.2 L355.6,296.8 C354.2,295.8 354,294.2 354.6,292.8 Z" />
<path d="M369.4,269.6 C370.8,278 365.6,288 355.8,293.4 L360.2,299.6 C371.6,293.6 378.6,283 377.4,273.4 Z" fill="#fcfefb" stroke="#111" stroke-width="1.4"/>
<path d="M370.2,270.2 C371.6,278.6 366.6,288.0 357.0,294.2" fill="none" stroke="#111" stroke-width="1.25"/>
<path d="M372.1,271.1 C373.5,279.6 368.5,289.3 358.1,295.9" fill="none" stroke="#111" stroke-width="1.25"/>
<path d="M374.0,271.9 C375.4,280.5 370.4,290.7 359.3,297.6" fill="none" stroke="#111" stroke-width="1.25"/>
<path d="M375.9,272.8 C377.3,281.5 372.3,292.0 360.4,299.3" fill="none" stroke="#111" stroke-width="1.25"/>
<path d="M377.8,273.6 C379.2,282.4 374.2,293.3 361.6,301.0" fill="none" stroke="#111" stroke-width="1.25"/>
<path class="k" d="M368.6,269.8 L372,269 L378,273 L377.4,276 M355,292.4 L357,290.2 L363,294.2 L361.8,299.6" />
<ellipse class="k" cx="358.6" cy="294.6" rx="2.0" ry="2.6" transform="rotate(20.0 358.6 294.6)"/>
<ellipse class="k" cx="362.8" cy="297.0" rx="1.7" ry="2.3" transform="rotate(20.0 362.8 297.0)"/>
<ellipse class="k" cx="372.4" cy="272.0" rx="1.6" ry="2.1" transform="rotate(20.0 372.4 272.0)"/>
<ellipse class="k" cx="375.6" cy="274.2" rx="1.3" ry="1.8" transform="rotate(20.0 375.6 274.2)"/>
<ellipse class="f" cx="390.8" cy="284.3" rx="3.5" ry="4.4" transform="rotate(30.0 390.8 284.3)"/>
<ellipse class="k" cx="390.8" cy="284.3" rx="1.6" ry="2.1" transform="rotate(30.0 390.8 284.3)"/>
<ellipse class="f" cx="378.3" cy="305.7" rx="3.5" ry="4.4" transform="rotate(30.0 378.3 305.7)"/>
<ellipse class="k" cx="378.3" cy="305.7" rx="1.6" ry="2.1" transform="rotate(30.0 378.3 305.7)"/>
<path d="M397.6,289.2 L415.6,298.0" fill="none" stroke="#111" stroke-width="3.6" stroke-linecap="round"/>
<path d="M397.6,289.2 L406.6,293.6" fill="none" stroke="#fcfefb" stroke-width="1.5" stroke-dasharray="1 1.1"/>
<path d="M406.6,293.6 L414.1,297.2" fill="none" stroke="#fcfefb" stroke-width="1.6"/>
<ellipse class="d2" cx="415.6" cy="298.0" rx="1.9" ry="2.8" transform="rotate(25.0 415.6 298.0)"/>
<path d="M385.6,310.0 L403.6,319.0" fill="none" stroke="#111" stroke-width="3.6" stroke-linecap="round"/>
<path d="M385.6,310.0 L394.6,314.5" fill="none" stroke="#fcfefb" stroke-width="1.5" stroke-dasharray="1 1.1"/>
<path d="M394.6,314.5 L402.1,318.2" fill="none" stroke="#fcfefb" stroke-width="1.6"/>
<ellipse class="d2" cx="403.6" cy="319.0" rx="1.9" ry="2.8" transform="rotate(25.0 403.6 319.0)"/>
</g>
<g transform="translate(559.6,323.4)">
<path class="f" d="M333,249.2 C334,247.6 335.6,247.4 337,248 L349.6,255.6 C351,256.6 351,259.0 350.2,259.8 L347,263 C345.6,264.2 344.4,264.2 343,264 C339,267 337.4,271.6 339.0,276 C339.6,278.4 339.0,281 336.6,282.6 L334.6,283.8 C333.4,284.4 332.4,284.2 331,283.4 L320.4,276.8 C319,275.8 318.8,274.4 319.6,273 Z" />
<path class="t" d="M342.2,252.4 L330.8,279.0" />
<path class="t" d="M343,264 L340,262 M339.0,276 L335.6,274.4" />
<ellipse class="l" cx="337.6" cy="253.9" rx="2.5" ry="2.9" transform="rotate(20.0 337.6 253.9)"/>
<ellipse class="t" cx="337.6" cy="253.9" rx="1.2" ry="1.5" transform="rotate(20.0 337.6 253.9)"/>
<ellipse class="l" cx="325.2" cy="275.2" rx="2.5" ry="2.9" transform="rotate(20.0 325.2 275.2)"/>
<ellipse class="t" cx="325.2" cy="275.2" rx="1.2" ry="1.5" transform="rotate(20.0 325.2 275.2)"/>
<path class="f" d="M352.2,264.8 L355.4,260.8 C356,260 357,260 357.8,260.6 L363.4,264.6 C364.2,265.2 364.2,266 364,266.8 L362.6,271 C362.2,272 361,272.2 360,272 C359,272 358,271.4 357,270.8 L352.6,268 C351.8,267.2 351.6,265.8 352.2,264.8Z" />
<ellipse class="t" cx="359.0" cy="266.2" rx="0.9" ry="1.2" transform="rotate(20.0 359.0 266.2)"/>
<path class="f" d="M340.6,286 L344,281.6 C344.6,280.8 345.6,280.8 346.4,281.4 L352.8,285.8 C353.6,286.4 353.6,287.2 353.4,288 L351.6,292 C351.2,293 350,293.2 349,293 C348,293 347,292.4 346,291.8 L341,288.8 C340.2,288 340,286.8 340.6,286Z" />
<ellipse class="t" cx="347.4" cy="287.4" rx="0.9" ry="1.2" transform="rotate(20.0 347.4 287.4)"/>
<path class="f" d="M369.6,269.0 C370.6,267.6 372.2,267.6 373.4,268.2 L385.2,276 C386.4,277 386.4,279.0 385.8,279.8 L372.4,302.6 C371.4,304.2 369.6,305 368,304.2 L355.6,296.8 C354.2,295.8 354,294.2 354.6,292.8 Z" />
<path d="M369.4,269.6 C370.8,278 365.6,288 355.8,293.4 L360.2,299.6 C371.6,293.6 378.6,283 377.4,273.4 Z" fill="#fcfefb" stroke="#111" stroke-width="1.4"/>
<path d="M370.2,270.2 C371.6,278.6 366.6,288.0 357.0,294.2" fill="none" stroke="#111" stroke-width="1.25"/>
<path d="M372.1,271.1 C373.5,279.6 368.5,289.3 358.1,295.9" fill="none" stroke="#111" stroke-width="1.25"/>
<path d="M374.0,271.9 C375.4,280.5 370.4,290.7 359.3,297.6" fill="none" stroke="#111" stroke-width="1.25"/>
<path d="M375.9,272.8 C377.3,281.5 372.3,292.0 360.4,299.3" fill="none" stroke="#111" stroke-width="1.25"/>
<path d="M377.8,273.6 C379.2,282.4 374.2,293.3 361.6,301.0" fill="none" stroke="#111" stroke-width="1.25"/>
<path class="k" d="M368.6,269.8 L372,269 L378,273 L377.4,276 M355,292.4 L357,290.2 L363,294.2 L361.8,299.6" />
<ellipse class="k" cx="358.6" cy="294.6" rx="2.0" ry="2.6" transform="rotate(20.0 358.6 294.6)"/>
<ellipse class="k" cx="362.8" cy="297.0" rx="1.7" ry="2.3" transform="rotate(20.0 362.8 297.0)"/>
<ellipse class="k" cx="372.4" cy="272.0" rx="1.6" ry="2.1" transform="rotate(20.0 372.4 272.0)"/>
<ellipse class="k" cx="375.6" cy="274.2" rx="1.3" ry="1.8" transform="rotate(20.0 375.6 274.2)"/>
<ellipse class="f" cx="390.8" cy="284.3" rx="3.5" ry="4.4" transform="rotate(30.0 390.8 284.3)"/>
<ellipse class="k" cx="390.8" cy="284.3" rx="1.6" ry="2.1" transform="rotate(30.0 390.8 284.3)"/>
<ellipse class="f" cx="378.3" cy="305.7" rx="3.5" ry="4.4" transform="rotate(30.0 378.3 305.7)"/>
<ellipse class="k" cx="378.3" cy="305.7" rx="1.6" ry="2.1" transform="rotate(30.0 378.3 305.7)"/>
<path d="M397.6,289.2 L415.6,298.0" fill="none" stroke="#111" stroke-width="3.6" stroke-linecap="round"/>
<path d="M397.6,289.2 L406.6,293.6" fill="none" stroke="#fcfefb" stroke-width="1.5" stroke-dasharray="1 1.1"/>
<path d="M406.6,293.6 L414.1,297.2" fill="none" stroke="#fcfefb" stroke-width="1.6"/>
<ellipse class="d2" cx="415.6" cy="298.0" rx="1.9" ry="2.8" transform="rotate(25.0 415.6 298.0)"/>
<path d="M385.6,310.0 L403.6,319.0" fill="none" stroke="#111" stroke-width="3.6" stroke-linecap="round"/>
<path d="M385.6,310.0 L394.6,314.5" fill="none" stroke="#fcfefb" stroke-width="1.5" stroke-dasharray="1 1.1"/>
<path d="M394.6,314.5 L402.1,318.2" fill="none" stroke="#fcfefb" stroke-width="1.6"/>
<ellipse class="d2" cx="403.6" cy="319.0" rx="1.9" ry="2.8" transform="rotate(25.0 403.6 319.0)"/>
</g>
<path class="f" d="M280.8,311.2 C280.6,307.5 283,305 286.2,305 C288.6,305 290.4,305.6 291.6,306.9 L297,314.5 L299.2,316.6 L306,345 L302.5,350.2 L298.7,350.2 L288.9,367.5 L285.7,367 C286.6,362 287.6,359 287.9,355.6 C289.6,350 290.6,345 290,340.4 C289,335 287.6,331 286.2,327.5 C284,321 281.4,315 280.8,311.2Z" />
<path class="t" d="M282.2,311 C283,316 285.4,321.6 287.6,327.8 C289,331.6 290.4,335.6 291.2,340.6 C291.8,345.4 290.8,350.4 289.2,355.8 C288.8,359.2 287.8,362.4 287,366.8" />
<ellipse class="l" cx="287.3" cy="312.9" rx="1.9" ry="2.8" transform="rotate(-38.0 287.3 312.9)"/>
<ellipse class="l" cx="290.6" cy="316.6" rx="1.9" ry="2.8" transform="rotate(-38.0 290.6 316.6)"/>
<ellipse class="l" cx="293.5" cy="320.0" rx="1.9" ry="2.8" transform="rotate(-38.0 293.5 320.0)"/>
<ellipse class="l" cx="298.1" cy="336.9" rx="1.4" ry="2.8" transform="rotate(-20.0 298.1 336.9)"/>
<path class="f" d="M309,303.4 C310,301.8 311.4,301.2 312.4,301.4 C314.6,301.8 315.8,303 315.4,304.4 L313.3,309.1 C311.4,312 310.4,313.4 310.6,314.6 C310.8,316.4 311,317.6 311.4,318.9 C313.4,322 315.6,324.6 317.6,327.5 C320,331 321.8,333.4 323,336.1 C324,338.4 324.6,340.4 325.2,342.6 L327.3,351.3 L329,359.9 L326.3,364.2 L315.4,359.9 L305.7,377.2 L301.9,376 C302.4,370 303,365 303.5,359.9 C304.4,354 304.9,349 304.6,343.7 C304,338.6 302.8,334.6 301.4,330.7 C300,327 298.2,323 298.1,319.9 C298.2,318.6 298.6,317.6 299.2,316.6 Z" />
<path class="t" d="M310.2,303.8 L300.6,316.8 C300,318 299.6,319 299.6,320 C299.8,323 301.4,326.8 302.8,330.6 C304.2,334.6 305.4,338.6 306,343.7 C306.3,349 305.8,354 304.9,359.9 C304.4,365 303.8,370 303.3,376.4" />
<ellipse class="l" cx="304.6" cy="321.5" rx="1.8" ry="2.6" transform="rotate(-38.0 304.6 321.5)"/>
<ellipse class="l" cx="307.4" cy="325.6" rx="1.8" ry="2.6" transform="rotate(-38.0 307.4 325.6)"/>
<ellipse class="l" cx="310.6" cy="329.4" rx="1.8" ry="2.6" transform="rotate(-38.0 310.6 329.4)"/>
<ellipse class="l" cx="313.8" cy="332.3" rx="1.8" ry="2.6" transform="rotate(-38.0 313.8 332.3)"/>
<ellipse class="l" cx="317.0" cy="334.6" rx="1.8" ry="2.6" transform="rotate(-38.0 317.0 334.6)"/>
<ellipse class="l" cx="315.4" cy="347.5" rx="1.9" ry="3.1" transform="rotate(-30.0 315.4 347.5)"/>
<path class="f" d="M669.7,535.2 C669.6,531.4 672.6,528.7 676.2,528.7 C677.6,528.7 678.8,529.4 679.5,530.3 L686,538.4 L688.7,541.1 L695,570 L691.4,575.2 L687.6,574.7 L677.3,591.4 L674.1,590.9 C675,587 675.8,584 676.2,580.6 C677.8,575 678.6,569 677.9,563.3 C677,558 675.6,553 674.1,548.1 C672.2,543 670.2,538.6 669.7,535.2Z" />
<path class="t" d="M671.1,535 C671.8,539 673.6,543 675.5,548.2 C677,553 678.4,558 679.3,563.3 C680,569 679.2,575 677.6,580.6 C677.2,584 676.4,587 675.5,591" />
<ellipse class="l" cx="676.8" cy="536.8" rx="1.9" ry="2.8" transform="rotate(-38.0 676.8 536.8)"/>
<ellipse class="l" cx="680.0" cy="541.1" rx="1.9" ry="2.8" transform="rotate(-38.0 680.0 541.1)"/>
<ellipse class="l" cx="683.3" cy="544.9" rx="1.9" ry="2.8" transform="rotate(-38.0 683.3 544.9)"/>
<ellipse class="l" cx="687.6" cy="561.1" rx="1.4" ry="2.8" transform="rotate(-20.0 687.6 561.1)"/>
<path class="f" d="M687.6,543.3 C688.4,540.6 690.4,539.4 692.5,539.5 C693.8,539.4 695,539.6 695.7,540 L700,543.8 L707.6,552.5 C709.6,554.6 711,556.2 711.9,557.9 L714.1,563.3 C714.4,565.4 714.6,567.2 715.2,568.7 C716.4,571 717.8,573 719.5,574.1 L724.4,577.4 C725.8,578.4 726,579.6 725.5,580.6 C724.6,583 723.6,584.8 722.2,586 C720.6,587.6 719,588.6 717.4,588.2 L704.4,583.9 L694.6,601.7 L691.4,601.2 C691.8,598 692.2,596 692.5,593.6 C694,589 694.8,585 694.6,580.6 C694.6,575 694.2,570 693.5,566.5 C692.4,562 691,557.6 689.8,553.5 C688.6,549.6 687.6,546 687.6,543.3Z" />
<path class="t" d="M689,543.6 C689,546.2 690,549.8 691.2,553.6 C692.4,557.6 693.8,562 694.9,566.5 C695.6,570 696,575 696,580.6 C696.2,585 695.4,589 693.9,593.6 C693.6,596 693.2,598 692.8,601.4" />
<ellipse class="l" cx="693.5" cy="546.0" rx="1.7" ry="2.5" transform="rotate(-38.0 693.5 546.0)"/>
<ellipse class="l" cx="696.3" cy="549.8" rx="1.7" ry="2.5" transform="rotate(-38.0 696.3 549.8)"/>
<ellipse class="l" cx="699.5" cy="553.0" rx="1.7" ry="2.5" transform="rotate(-38.0 699.5 553.0)"/>
<ellipse class="l" cx="702.7" cy="556.2" rx="1.7" ry="2.5" transform="rotate(-38.0 702.7 556.2)"/>
<ellipse class="l" cx="706.0" cy="558.5" rx="1.7" ry="2.5" transform="rotate(-38.0 706.0 558.5)"/>
<ellipse class="l" cx="704.9" cy="571.9" rx="1.9" ry="3.1" transform="rotate(-30.0 704.9 571.9)"/>
<ellipse class="l" cx="714.7" cy="577.4" rx="1.0" ry="1.5" transform="rotate(-30.0 714.7 577.4)"/>
<ellipse class="l" cx="721.7" cy="581.7" rx="1.2" ry="1.9" transform="rotate(-30.0 721.7 581.7)"/>
<g transform="translate(0.0,0.0)">
<path d="M184.6,257.6 L189.6,260.4" fill="none" stroke="#1a1a1a" stroke-width="3.4"/>
<path d="M184.6,257.6 L189.6,260.4" fill="none" stroke="#d8dad6" stroke-width="1.2" stroke-dasharray="0.45 1.1"/>
<path class="sb" d="M186.6,263.5 L194.6,268.3 L199.4,260.5 L191.4,255.7 Z" />
<ellipse class="f" cx="189.0" cy="259.6" rx="2.5" ry="4.6" transform="rotate(31.0 189.0 259.6)"/>
<path class="k" d="M186.6,263.5 L194.6,268.3 M191.4,255.7 L199.4,260.5" />
<path class="sb" d="M186.9,263.2 L194.9,268.0 L199.1,260.8 L191.1,256.0 Z" />
<path class="t" d="M190.5,258.4 L196.6,262 M189.4,261.6 L195.4,265" />
<ellipse class="f" cx="203.4" cy="267.6" rx="6.4" ry="9.0" transform="rotate(28.0 203.4 267.6)"/>
<ellipse class="f" cx="204.6" cy="268.2" rx="5.2" ry="7.6" transform="rotate(28.0 204.6 268.2)"/>
<path class="sb" d="M205.8,272.1 L224.7,283.1 L228.1,277.3 L209.2,266.3 Z" />
<ellipse class="f" cx="207.5" cy="269.2" rx="1.8" ry="3.3" transform="rotate(30.2 207.5 269.2)"/>
<path class="k" d="M205.8,272.1 L224.7,283.1 M209.2,266.3 L228.1,277.3" />
<path class="sb" d="M206.0,271.8 L224.9,282.8 L227.9,277.6 L209.0,266.6 Z" />
<ellipse class="f" cx="226.4" cy="280.2" rx="1.8" ry="3.3" transform="rotate(30.2 226.4 280.2)"/>
</g>
<g transform="translate(0.0,0.0)">
<path class="sb" d="M203.7,288.4 L207.7,290.8 L213.5,281.2 L209.5,278.8 Z" />
<ellipse class="f" cx="206.6" cy="283.6" rx="3.4" ry="5.6" transform="rotate(31.0 206.6 283.6)"/>
<path class="k" d="M203.7,288.4 L207.7,290.8 M209.5,278.8 L213.5,281.2" />
<path class="sb" d="M204.0,287.9 L208.0,290.3 L213.2,281.7 L209.2,279.3 Z" />
<ellipse class="f" cx="210.6" cy="286.0" rx="3.4" ry="5.6" transform="rotate(31.0 210.6 286.0)"/>
<path class="sb" d="M209.2,288.0 L230.2,300.4 L233.8,294.4 L212.8,282.0 Z" />
<ellipse class="f" cx="211.0" cy="285.0" rx="1.9" ry="3.5" transform="rotate(30.6 211.0 285.0)"/>
<path class="k" d="M209.2,288.0 L230.2,300.4 M212.8,282.0 L233.8,294.4" />
<path class="sb" d="M209.4,287.7 L230.4,300.1 L233.6,294.7 L212.6,282.3 Z" />
<path d="M227.4,294.6 L237.0,300.2" fill="none" stroke="#1a1a1a" stroke-width="7.4"/>
<path d="M227.4,294.6 L237.0,300.2" fill="none" stroke="#d8dad6" stroke-width="5.2" stroke-dasharray="0.45 1.1"/>
<ellipse class="f" cx="237.2" cy="300.4" rx="2.2" ry="3.7" transform="rotate(28.0 237.2 300.4)"/>
</g>
<g transform="translate(253.0,309.4) rotate(30)">
<rect x="0" y="-1.9" width="4" height="3.8" rx="1" class="f"/>
<rect x="4" y="-1.3" width="13" height="2.6" class="f"/>
<path d="M8,0 L17,0" stroke="#1a1a1a" stroke-width="2.8" fill="none"/>
<path d="M8,0 L17,0" stroke="#fcfefb" stroke-width="1.2" stroke-dasharray="0.45 1.1" fill="none"/>
</g>
<g transform="translate(270.4,319.6) rotate(30)">
<rect x="0" y="-1.9" width="4" height="3.8" rx="1" class="f"/>
<rect x="4" y="-1.3" width="13" height="2.6" class="f"/>
<path d="M8,0 L17,0" stroke="#1a1a1a" stroke-width="2.8" fill="none"/>
<path d="M8,0 L17,0" stroke="#fcfefb" stroke-width="1.2" stroke-dasharray="0.45 1.1" fill="none"/>
</g>
<ellipse class="f" cx="319.4" cy="311.6" rx="2.8" ry="3.3" transform="rotate(25.0 319.4 311.6)"/>
<ellipse class="f" cx="320.8" cy="310.8" rx="2.8" ry="3.3" transform="rotate(25.0 320.8 310.8)"/>
<ellipse class="k" cx="320.8" cy="310.8" rx="1.4" ry="1.7" transform="rotate(25.0 320.8 310.8)"/>
<path class="l" d="M318.2,308.6 l1.4,-0.8 M320.0,314.5 l1.4,-0.8" />
<path d="M325.6,314.6 L332.0,318.4" fill="none" stroke="#1a1a1a" stroke-width="5.0"/>
<path d="M325.6,314.6 L332.0,318.4" fill="none" stroke="#d8dad6" stroke-width="2.8" stroke-dasharray="0.45 1.1"/>
<path class="sb" d="M330.1,321.5 L332.7,323.1 L336.5,316.9 L333.9,315.3 Z" />
<ellipse class="f" cx="332.0" cy="318.4" rx="2.2" ry="3.6" transform="rotate(31.6 332.0 318.4)"/>
<path class="k" d="M330.1,321.5 L332.7,323.1 M333.9,315.3 L336.5,316.9" />
<path class="sb" d="M330.3,321.2 L332.9,322.8 L336.3,317.2 L333.7,315.6 Z" />
<ellipse class="f" cx="334.6" cy="320.0" rx="2.2" ry="3.6" transform="rotate(31.6 334.6 320.0)"/>
<path class="f" d="M339.5,319.6 C340.5,318.4 342.5,318 344,319.0 L390.8,345.6 L390.2,351.8 L385.8,355.2 L337.8,327.4 Z" />
<path class="t" d="M337.8,327.4 L339.5,319.6 M385.8,355.2 L386.6,349.0 L390.8,345.6 M386.6,349.0 L340.6,322" />
<ellipse class="t" cx="346.0" cy="325.6" rx="0.9" ry="1.3" transform="rotate(0.0 346.0 325.6)"/>
<ellipse class="t" cx="353.6" cy="330.0" rx="0.9" ry="1.3" transform="rotate(0.0 353.6 330.0)"/>
<ellipse class="k" cx="339.5" cy="346.0" rx="6.5" ry="9.7" transform="rotate(30.0 339.5 346.0)"/>
<ellipse class="l" cx="339.8" cy="346.2" rx="5.3" ry="8.3" transform="rotate(30.0 339.8 346.2)"/>
<ellipse class="f2" cx="344.0" cy="362.9" rx="4.8" ry="6.9" transform="rotate(30.0 344.0 362.9)"/>
<ellipse class="k" cx="344.0" cy="362.9" rx="2.1" ry="3.1" transform="rotate(30.0 344.0 362.9)"/>
<ellipse class="f" cx="354.6" cy="369.4" rx="5.4" ry="7.0" transform="rotate(28.0 354.6 369.4)"/>
<path class="k" d="M353.6,362.4 l4.6,2.4 M356.0,376.2 l4.6,2.6" />
<ellipse class="f" cx="359.2" cy="372.0" rx="4.6" ry="6.2" transform="rotate(28.0 359.2 372.0)"/>
<ellipse class="k" cx="359.2" cy="372.0" rx="2.6" ry="3.8" transform="rotate(28.0 359.2 372.0)"/>
<ellipse class="f" cx="393.8" cy="353.4" rx="2.7" ry="4.0" transform="rotate(30.0 393.8 353.4)"/>
<ellipse class="k" cx="393.8" cy="353.4" rx="1.1" ry="1.7" transform="rotate(30.0 393.8 353.4)"/>
<ellipse class="f" cx="399.9" cy="356.9" rx="2.7" ry="4.0" transform="rotate(30.0 399.9 356.9)"/>
<ellipse class="k" cx="399.9" cy="356.9" rx="1.1" ry="1.7" transform="rotate(30.0 399.9 356.9)"/>
<ellipse class="f" cx="405.6" cy="360.2" rx="3.1" ry="3.6" transform="rotate(25.0 405.6 360.2)"/>
<ellipse class="f" cx="407.0" cy="359.4" rx="3.1" ry="3.6" transform="rotate(25.0 407.0 359.4)"/>
<ellipse class="k" cx="407.0" cy="359.4" rx="1.5" ry="1.9" transform="rotate(25.0 407.0 359.4)"/>
<path class="l" d="M404.4,356.9 l1.4,-0.8 M406.2,363.4 l1.4,-0.8" />
<ellipse class="f" cx="412.6" cy="365.2" rx="3.1" ry="3.6" transform="rotate(25.0 412.6 365.2)"/>
<ellipse class="f" cx="414.0" cy="364.4" rx="3.1" ry="3.6" transform="rotate(25.0 414.0 364.4)"/>
<ellipse class="k" cx="414.0" cy="364.4" rx="1.5" ry="1.9" transform="rotate(25.0 414.0 364.4)"/>
<path class="l" d="M411.4,361.9 l1.4,-0.8 M413.2,368.4 l1.4,-0.8" />
<path class="sb" d="M613.5,526.6 L617.5,528.9 L623.7,518.1 L619.7,515.8 Z" />
<ellipse class="f2" cx="616.6" cy="521.2" rx="4.4" ry="6.2" transform="rotate(29.9 616.6 521.2)"/>
<path class="k" d="M613.5,526.6 L617.5,528.9 M619.7,515.8 L623.7,518.1" />
<path class="sb" d="M613.8,526.0 L617.8,528.3 L623.4,518.7 L619.4,516.4 Z" />
<ellipse class="f2" cx="620.6" cy="523.5" rx="4.4" ry="6.2" transform="rotate(29.9 620.6 523.5)"/>
<ellipse class="k" cx="620.6" cy="523.5" rx="2.6" ry="3.9" transform="rotate(30.0 620.6 523.5)"/>
<ellipse class="k" cx="620.6" cy="523.5" rx="1.2" ry="1.9" transform="rotate(30.0 620.6 523.5)"/>
<path d="M614,517 L619,520" stroke="#111" stroke-width="2.4" fill="none"/>
<ellipse class="f2" cx="630.9" cy="529.2" rx="4.8" ry="7.1" transform="rotate(30.0 630.9 529.2)"/>
<ellipse class="k" cx="630.9" cy="529.2" rx="2.2" ry="3.4" transform="rotate(30.0 630.9 529.2)"/>
<ellipse class="k" cx="650.1" cy="525.1" rx="6.5" ry="9.7" transform="rotate(30.0 650.1 525.1)"/>
<ellipse class="l" cx="650.4" cy="525.3" rx="5.3" ry="8.3" transform="rotate(30.0 650.4 525.3)"/>
<ellipse class="f" cx="711.0" cy="537.4" rx="2.7" ry="3.2" transform="rotate(25.0 711.0 537.4)"/>
<ellipse class="f" cx="712.4" cy="536.6" rx="2.7" ry="3.2" transform="rotate(25.0 712.4 536.6)"/>
<ellipse class="k" cx="712.4" cy="536.6" rx="1.3" ry="1.7" transform="rotate(25.0 712.4 536.6)"/>
<path class="l" d="M709.8,534.5 l1.4,-0.8 M711.6,540.2 l1.4,-0.8" />
<ellipse class="f" cx="719.0" cy="541.6" rx="2.7" ry="3.2" transform="rotate(25.0 719.0 541.6)"/>
<ellipse class="f" cx="720.4" cy="540.8" rx="2.7" ry="3.2" transform="rotate(25.0 720.4 540.8)"/>
<ellipse class="k" cx="720.4" cy="540.8" rx="1.3" ry="1.7" transform="rotate(25.0 720.4 540.8)"/>
<path class="l" d="M717.8,538.7 l1.4,-0.8 M719.6,544.4 l1.4,-0.8" />
<ellipse class="f" cx="727.6" cy="546.0" rx="2.4" ry="3.4" transform="rotate(28.0 727.6 546.0)"/>
<ellipse class="k" cx="727.6" cy="546.0" rx="1.0" ry="1.5" transform="rotate(28.0 727.6 546.0)"/>
<ellipse class="f" cx="734.6" cy="550.0" rx="2.4" ry="3.4" transform="rotate(28.0 734.6 550.0)"/>
<ellipse class="k" cx="734.6" cy="550.0" rx="1.0" ry="1.5" transform="rotate(28.0 734.6 550.0)"/>
<path class="f" d="M742.6,550.2 L791.6,577.4 L788,585.6 L739.2,557.6 Z" />
<path class="t" d="M744.6,552.4 L741.6,559.0" />
<ellipse class="t" cx="749.0" cy="556.6" rx="0.9" ry="1.3" transform="rotate(0.0 749.0 556.6)"/>
<ellipse class="t" cx="754.6" cy="560.6" rx="0.9" ry="1.3" transform="rotate(0.0 754.6 560.6)"/>
<path class="sb" d="M723.0,570.9 L747.0,583.9 L749.0,580.1 L725.0,567.1 Z" />
<ellipse class="f" cx="724.0" cy="569.0" rx="1.3" ry="2.2" transform="rotate(28.4 724.0 569.0)"/>
<path class="k" d="M723.0,570.9 L747.0,583.9 M725.0,567.1 L749.0,580.1" />
<path class="sb" d="M723.1,570.7 L747.1,583.7 L748.9,580.3 L724.9,567.3 Z" />
<ellipse class="f" cx="746.4" cy="582.2" rx="5.0" ry="8.6" transform="rotate(30.0 746.4 582.2)"/>
<ellipse class="f" cx="747.8" cy="583.0" rx="4.0" ry="7.2" transform="rotate(30.0 747.8 583.0)"/>
<path class="sb" d="M748.1,588.6 L759.1,594.8 L764.1,586.0 L753.1,579.8 Z" />
<ellipse class="f" cx="750.6" cy="584.2" rx="2.8" ry="5.0" transform="rotate(29.4 750.6 584.2)"/>
<path class="k" d="M748.1,588.6 L759.1,594.8 M753.1,579.8 L764.1,586.0" />
<path class="sb" d="M748.4,588.1 L759.4,594.3 L763.8,586.5 L752.8,580.3 Z" />
<path class="t" d="M751.6,582 L762.4,588.2 M749.8,586.4 L760.8,592.6" />
<ellipse class="f" cx="761.8" cy="590.6" rx="2.9" ry="5.0" transform="rotate(30.0 761.8 590.6)"/>
<path class="sb" d="M761.6,592.5 L765.0,594.5 L767.0,591.1 L763.6,589.1 Z" />
<ellipse class="f" cx="762.6" cy="590.8" rx="1.2" ry="2.0" transform="rotate(30.5 762.6 590.8)"/>
<path class="k" d="M761.6,592.5 L765.0,594.5 M763.6,589.1 L767.0,591.1" />
<path class="sb" d="M761.7,592.4 L765.1,594.4 L766.9,591.2 L763.5,589.2 Z" />
<ellipse class="f" cx="766.0" cy="592.8" rx="1.2" ry="2.0" transform="rotate(30.5 766.0 592.8)"/>
<path d="M746.6,595.6 L755.0,600.2" fill="none" stroke="#1a1a1a" stroke-width="6.8"/>
<path d="M746.6,595.6 L755.0,600.2" fill="none" stroke="#d8dad6" stroke-width="4.6" stroke-dasharray="0.45 1.1"/>
<path class="sb" d="M752.4,602.6 L772.4,613.0 L775.6,607.0 L755.6,596.6 Z" />
<ellipse class="f" cx="754.0" cy="599.6" rx="1.9" ry="3.4" transform="rotate(27.5 754.0 599.6)"/>
<path class="k" d="M752.4,602.6 L772.4,613.0 M755.6,596.6 L775.6,607.0" />
<path class="sb" d="M752.6,602.3 L772.6,612.7 L775.4,607.3 L755.4,596.9 Z" />
<path class="sb" d="M770.6,614.2 L775.2,616.6 L780.0,607.4 L775.4,605.0 Z" />
<ellipse class="f" cx="773.0" cy="609.6" rx="3.2" ry="5.2" transform="rotate(27.6 773.0 609.6)"/>
<path class="k" d="M770.6,614.2 L775.2,616.6 M775.4,605.0 L780.0,607.4" />
<path class="sb" d="M770.8,613.7 L775.4,616.1 L779.8,607.9 L775.2,605.5 Z" />
<ellipse class="f" cx="777.6" cy="612.0" rx="3.2" ry="5.2" transform="rotate(27.6 777.6 612.0)"/>
<g transform="translate(790.6,620.6) rotate(30)">
<path d="M0,0 L10,0" stroke="#1a1a1a" stroke-width="4.2" fill="none"/>
<path d="M0,0 L10,0" stroke="#d8dad6" stroke-width="2.0" stroke-dasharray="0.45 1.1" fill="none"/>
<rect x="10" y="-2" width="2.5" height="4" class="f"/>
<rect x="12.5" y="-3" width="4.6" height="6" rx="1.2" class="f" style="stroke-width:1.3"/>
</g>
<g transform="translate(808.0,630.4) rotate(30)">
<path d="M0,0 L10,0" stroke="#1a1a1a" stroke-width="4.2" fill="none"/>
<path d="M0,0 L10,0" stroke="#d8dad6" stroke-width="2.0" stroke-dasharray="0.45 1.1" fill="none"/>
<rect x="10" y="-2" width="2.5" height="4" class="f"/>
<rect x="12.5" y="-3" width="4.6" height="6" rx="1.2" class="f" style="stroke-width:1.3"/>
</g>
<text x="295.4" y="16.5" text-anchor="middle">7</text>
<path class="ld" d="M290.9,12.1 L280.8,12.1 L266.0,40.4" />
<text x="302.2" y="71.6" text-anchor="middle">13</text>
<path class="ld" d="M294.0,67.1 L284.7,67.1 L258.3,53.6" />
<text x="331.3" y="99.5" text-anchor="middle">19</text>
<path class="ld" d="M323.5,95.1 L315.0,95.1 L299.4,118.0" />
<text x="58.0" y="204.6" text-anchor="middle">5</text>
<path class="ld" d="M63.0,199.0 L71.6,199.0 L91.5,164.0" />
<text x="219.2" y="214.1" text-anchor="middle">16</text>
<path class="ld" d="M229.3,208.0 L237.4,208.0 L249.0,176.0" />
<text x="155.2" y="225.7" text-anchor="middle">15</text>
<path class="ld" d="M166.2,219.4 L176.3,219.4 L191.2,256.1" />
<text x="47.1" y="270.2" text-anchor="middle">17</text>
<path class="ld" d="M56.7,264.8 L64.8,264.8 L86.6,294.2" />
<text x="234.8" y="265.6" text-anchor="middle">2</text>
<path class="ld" d="M240.2,259.6 L248.3,259.6 L257.4,310.4" />
<text x="265.9" y="240.4" text-anchor="middle">4</text>
<path class="ld" d="M271.4,235.2 L279.6,235.2 L333.2,314.7" />
<text x="266.6" y="258.9" text-anchor="middle">9</text>
<path class="ld" d="M272.2,253.4 L281.5,253.4 L320.4,310.4" />
<rect x="6.4" y="421.2" width="24.4" height="24.1" fill="none" stroke="#555" stroke-width="0.9"/>
<text x="18.5" y="439.7" text-anchor="middle">25</text>
<path class="ld" d="M30.8,433.5 L40.0,433.5 L58.0,388.4" />
<rect x="88.7" y="486.3" width="24.4" height="24.1" fill="none" stroke="#555" stroke-width="0.9"/>
<text x="100.8" y="504.6" text-anchor="middle">24</text>
<path class="ld" d="M113.1,498.3 L122.5,498.3 L143.0,438.9" />
<rect x="588.7" y="774.8" width="24.8" height="24.2" fill="none" stroke="#555" stroke-width="0.9"/>
<text x="601.3" y="793.2" text-anchor="middle">24</text>
<path class="ld" d="M613.5,786.4 L622.7,786.4 L643.1,724.6" />
<text x="435.4" y="316.6" text-anchor="middle">20</text>
<path class="ld" d="M426.5,313.3 L417.1,313.3 L388.0,343.0" />
<text x="447.9" y="330.5" text-anchor="middle">14</text>
<path class="ld" d="M441.7,326.0 L432.2,326.0 L401.3,355.6" />
<text x="452.5" y="349.4" text-anchor="middle">6</text>
<path class="ld" d="M447.3,343.0 L438.5,343.0 L417.1,361.9" />
<text x="395.8" y="379.2" text-anchor="middle">11</text>
<path class="ld" d="M390.0,374.3 L380.5,374.3 L347.0,348.7" />
<text x="502.8" y="342.8" text-anchor="middle">18</text>
<path class="ld" d="M512.5,337.3 L523.3,337.3 L553.3,380.1" />
<text x="530.6" y="446.0" text-anchor="middle">21</text>
<path class="ld" d="M538.9,440.2 L546.1,440.2 L563.0,416.2" />
<text x="551.5" y="464.3" text-anchor="middle">18</text>
<path class="ld" d="M561.3,458.3 L570.9,458.3 L582.2,428.2" />
<text x="591.2" y="489.5" text-anchor="middle">8</text>
<path class="ld" d="M596.6,483.5 L605.0,483.5 L615.9,517.2" />
<text x="664.8" y="498.4" text-anchor="middle">10</text>
<path class="ld" d="M656.7,492.6 L645.9,492.6 L631.5,520.0" />
<text x="714.3" y="163.4" text-anchor="middle">19</text>
<path class="ld" d="M706.3,157.2 L694.7,157.2 L674.4,191.6" />
<text x="920.7" y="459.7" text-anchor="middle">23</text>
<path class="ld" d="M911.3,454.4 L900.2,454.4 L876.4,521.8" />
<text x="831.8" y="560.7" text-anchor="middle">20</text>
<path class="ld" d="M822.9,555.4 L814.2,555.4 L789.1,576.0" />
<text x="824.2" y="593.8" text-anchor="middle">3</text>
<path class="ld" d="M819.5,588.5 L810.3,588.5 L781.2,609.1" />
<text x="912.8" y="667.6" text-anchor="middle">12</text>
<path class="ld" d="M921.2,662.2 L930.5,662.2 L938.1,631.9" />
<text x="984.8" y="668.2" text-anchor="middle">1</text>
<path class="ld" d="M981.4,662.6 L971.6,662.6 L961.9,642.7" />
<text x="887.4" y="727.3" text-anchor="middle">22</text>
<path class="ld" d="M877.5,721.2 L869.0,721.2 L829.9,671.9" />
<path d="M1013,8.5 l2,-1 l1,-2 l3,0 l0,2 l-3,1 l-1,2 z" fill="#8a6f8a"/>
<rect x="1022.3" y="7.2" width="7.7" height="2.6" fill="#8a6f8a"/>
<path class="c" d="M230.8,105.0 L230.8,158.7"/>
<path class="c" d="M304.6,149.0 L304.6,306.0"/>
<path class="c" d="M697.1,216.0 L697.1,540.0"/>
</svg>
</body></html>
